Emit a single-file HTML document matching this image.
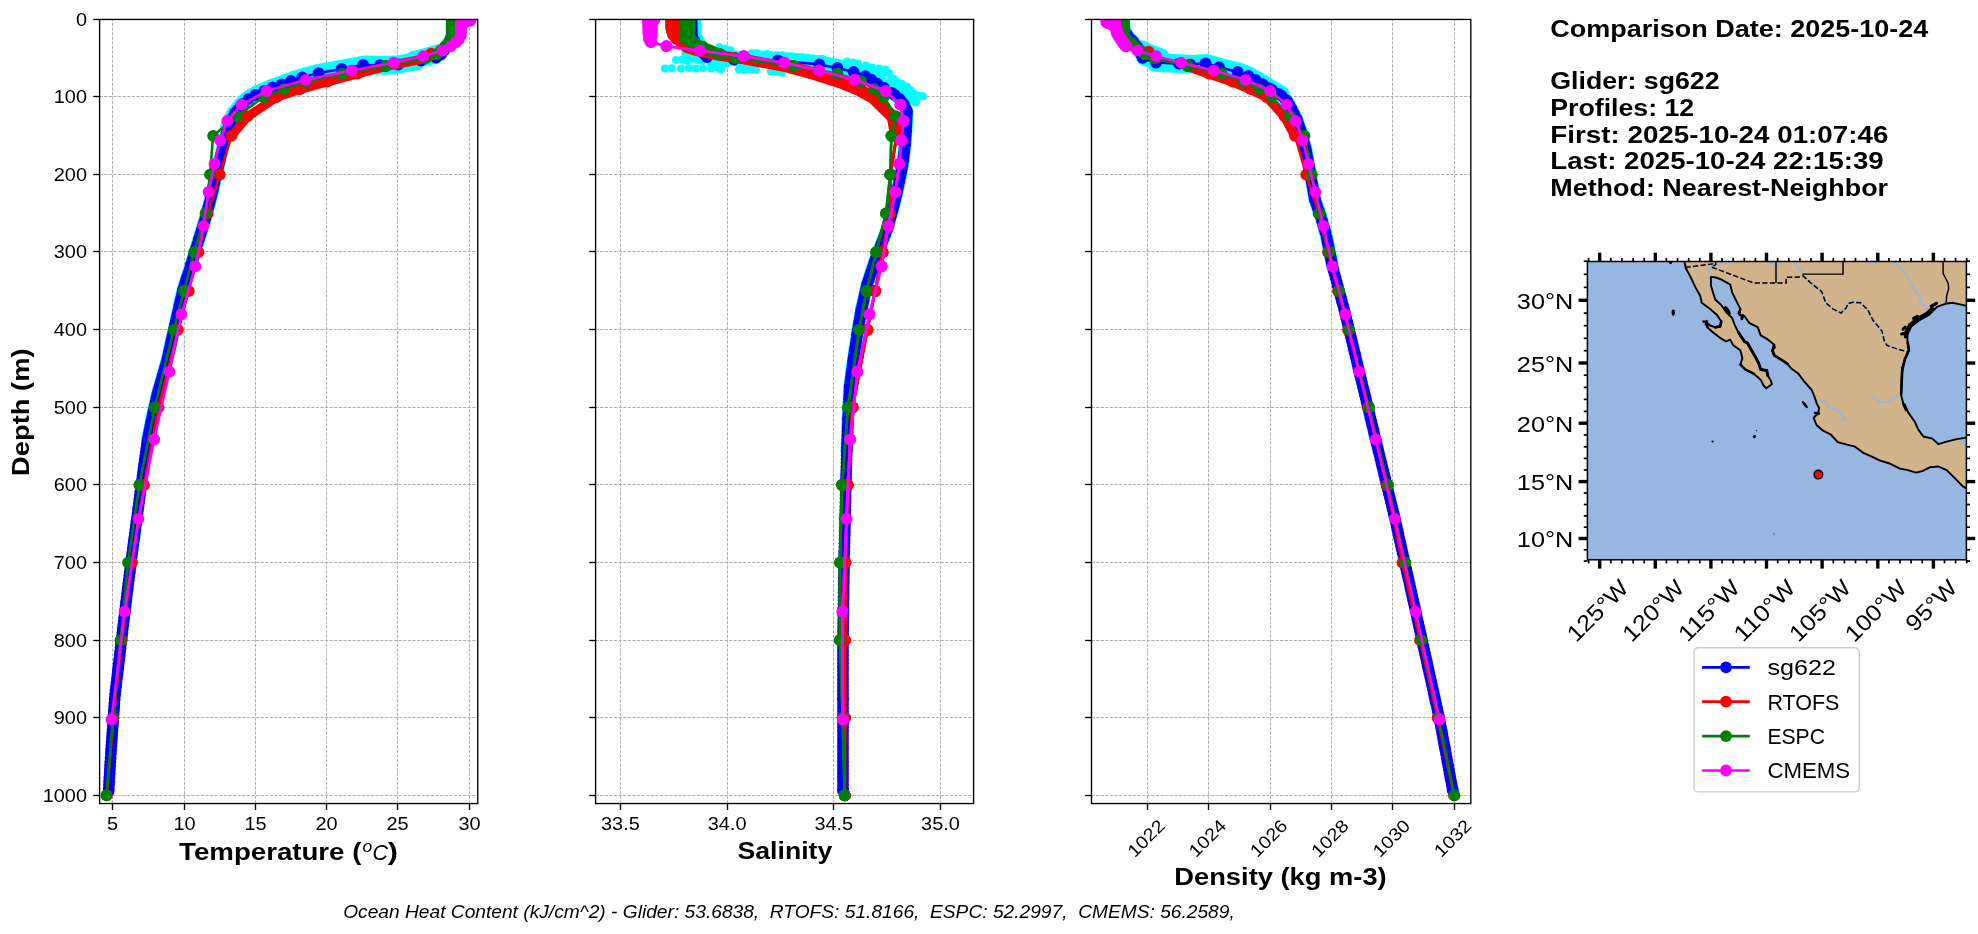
<!DOCTYPE html>
<html lang="en"><head><meta charset="utf-8"><title>Glider vs model profile comparison</title>
<style>html,body{margin:0;padding:0;background:#fff}svg{display:block;will-change:transform}</style></head>
<body>
<svg width="1978" height="934" viewBox="0 0 1978 934" font-family='"Liberation Sans", sans-serif' fill="#000">
<rect width="1978" height="934" fill="#fff"/>
<g stroke="#b0b0b0" stroke-width="1" stroke-dasharray="3.2 1.4" fill="none">
<line x1="112.5" y1="803.55" x2="112.5" y2="19.45"/>
<line x1="184.5" y1="803.55" x2="184.5" y2="19.45"/>
<line x1="255.5" y1="803.55" x2="255.5" y2="19.45"/>
<line x1="326.5" y1="803.55" x2="326.5" y2="19.45"/>
<line x1="397.5" y1="803.55" x2="397.5" y2="19.45"/>
<line x1="469.5" y1="803.55" x2="469.5" y2="19.45"/>
<line x1="99.6" y1="19.5" x2="477.75" y2="19.5"/>
<line x1="99.6" y1="96.5" x2="477.75" y2="96.5"/>
<line x1="99.6" y1="174.5" x2="477.75" y2="174.5"/>
<line x1="99.6" y1="251.5" x2="477.75" y2="251.5"/>
<line x1="99.6" y1="329.5" x2="477.75" y2="329.5"/>
<line x1="99.6" y1="407.5" x2="477.75" y2="407.5"/>
<line x1="99.6" y1="484.5" x2="477.75" y2="484.5"/>
<line x1="99.6" y1="562.5" x2="477.75" y2="562.5"/>
<line x1="99.6" y1="640.5" x2="477.75" y2="640.5"/>
<line x1="99.6" y1="717.5" x2="477.75" y2="717.5"/>
<line x1="99.6" y1="795.5" x2="477.75" y2="795.5"/>
</g>
<clipPath id="cp0"><rect x="99.6" y="19.45" width="378.15" height="784.10"/></clipPath>
<g clip-path="url(#cp0)">
<polyline fill="none" stroke="#00ffff" stroke-width="12.8" stroke-linejoin="round" stroke-linecap="round" points="452.0,19.4 452.0,35.0 449.5,42.0 446.5,46.5 443.8,50.5 440.8,54.5 436.0,57.5 421.0,60.6 395.0,65.0 380.0,65.2 363.1,65.0 339.3,69.3 316.4,73.6 302.1,77.4 291.0,81.0 281.7,84.4 272.6,87.5 264.0,91.2 255.3,95.0 246.5,100.0 241.0,106.0 235.0,113.0 231.0,121.0 227.6,129.3 222.2,150.0 216.9,172.0 211.6,195.0 205.5,218.0 198.7,240.0 191.0,265.0 183.0,290.0 175.0,325.0 167.2,360.0 157.4,394.0 152.0,418.0 147.4,441.0"/>
<polyline fill="none" stroke="#00ffff" stroke-width="12.5" stroke-linejoin="round" stroke-linecap="round" points="447.5,43.3 444.8,47.3 441.8,51.3 437.0,54.3 422.0,57.4 396.0,61.8 381.0,62.0 364.1,61.8 340.3,66.1 317.4,70.4 303.1,74.2 292.0,77.8 282.7,81.2 273.6,84.3 265.0,88.0 256.3,91.8 247.5,96.8"/>
<polyline fill="none" stroke="#00ffff" stroke-width="12" stroke-linejoin="round" stroke-linecap="round" points="418.0,64.1 392.0,68.5 377.0,68.7 360.1,68.5"/>
<polyline fill="none" stroke="#00ffff" stroke-width="11.8" stroke-linejoin="round" stroke-linecap="round" points="412.0,57.2 423.3,54.4 433.0,51.8 443.0,48.6"/>
<polyline fill="none" stroke="#00ffff" stroke-width="12" stroke-linejoin="round" stroke-linecap="round" points="244.5,98.8 239.0,104.8 233.0,111.8 229.0,119.8 225.6,128.1"/>
<polyline fill="none" stroke="#0000ff" stroke-width="2.6" stroke-linejoin="round" stroke-linecap="round" points="452.0,19.4 452.0,35.0 449.5,42.0 446.5,46.5 443.8,50.5 440.8,54.5 436.0,57.5 421.0,60.6 395.0,65.0 380.0,65.2 363.1,65.0 339.3,69.3 316.4,73.6 302.1,77.4 291.0,81.0 281.7,84.4 272.6,87.5 264.0,91.2 255.3,95.0 246.5,100.0 241.0,106.0 235.0,113.0 231.0,121.0 227.6,129.3 222.2,150.0 216.9,172.0 211.6,195.0 205.5,218.0 198.7,240.0 191.0,265.0 183.0,290.0 175.0,325.0 167.2,360.0 157.4,394.0 152.0,418.0 147.4,441.0 142.5,476.0 138.0,510.0 133.3,545.0 127.5,590.0 121.5,640.0 115.0,695.0 110.8,754.0 108.6,791.5"/>
<g fill="#0000ff"><circle cx="452.0" cy="19.4" r="5.9"/><circle cx="452.0" cy="23.3" r="5.9"/><circle cx="452.0" cy="27.2" r="5.9"/><circle cx="452.0" cy="31.0" r="5.9"/><circle cx="452.0" cy="34.9" r="5.9"/><circle cx="450.6" cy="38.9" r="5.9"/><circle cx="449.5" cy="42.0" r="5.9"/><circle cx="446.9" cy="45.9" r="5.9"/><circle cx="443.9" cy="50.4" r="5.9"/><circle cx="440.9" cy="54.4" r="5.9"/><circle cx="436.0" cy="57.5" r="5.9"/><circle cx="421.0" cy="60.6" r="5.9"/><circle cx="398.1" cy="64.5" r="5.9"/><circle cx="380.0" cy="65.2" r="5.9"/><circle cx="363.1" cy="65.0" r="5.9"/><circle cx="341.6" cy="68.9" r="5.9"/><circle cx="318.6" cy="73.2" r="5.9"/><circle cx="302.1" cy="77.4" r="5.9"/><circle cx="291.0" cy="81.0" r="5.9"/><circle cx="281.7" cy="84.4" r="5.9"/><circle cx="272.6" cy="87.5" r="5.9"/><circle cx="264.0" cy="91.2" r="5.9"/><circle cx="255.3" cy="95.0" r="5.9"/><circle cx="248.5" cy="98.9" r="5.9"/><circle cx="242.9" cy="103.9" r="5.9"/><circle cx="241.0" cy="106.0" r="5.9"/><circle cx="237.7" cy="109.9" r="5.9"/><circle cx="235.0" cy="113.0" r="5.9"/><circle cx="233.1" cy="116.9" r="5.9"/><circle cx="231.1" cy="120.8" r="5.9"/><circle cx="229.4" cy="124.9" r="5.9"/><circle cx="227.8" cy="128.8" r="5.9"/><circle cx="226.6" cy="133.2" r="5.9"/><circle cx="225.6" cy="137.1" r="5.9"/><circle cx="224.6" cy="140.9" r="5.9"/><circle cx="223.6" cy="144.8" r="5.9"/><circle cx="222.5" cy="148.7" r="5.9"/><circle cx="221.3" cy="153.9" r="5.9"/><circle cx="220.3" cy="157.8" r="5.9"/><circle cx="219.4" cy="161.6" r="5.9"/><circle cx="218.5" cy="165.5" r="5.9"/><circle cx="217.5" cy="169.4" r="5.9"/><circle cx="216.9" cy="172.0" r="5.9"/><circle cx="216.0" cy="175.9" r="5.9"/><circle cx="215.1" cy="179.8" r="5.9"/><circle cx="214.2" cy="183.6" r="5.9"/><circle cx="213.3" cy="187.5" r="5.9"/><circle cx="212.4" cy="191.4" r="5.9"/><circle cx="211.6" cy="195.0" r="5.9"/><circle cx="210.6" cy="198.9" r="5.9"/><circle cx="209.5" cy="202.8" r="5.9"/><circle cx="208.5" cy="206.6" r="5.9"/><circle cx="207.5" cy="210.5" r="5.9"/><circle cx="206.5" cy="214.4" r="5.9"/><circle cx="205.5" cy="218.0" r="5.9"/><circle cx="204.3" cy="221.9" r="5.9"/><circle cx="203.1" cy="225.8" r="5.9"/><circle cx="201.9" cy="229.6" r="5.9"/><circle cx="200.7" cy="233.5" r="5.9"/><circle cx="199.5" cy="237.4" r="5.9"/><circle cx="198.7" cy="240.0" r="5.9"/><circle cx="197.5" cy="243.9" r="5.9"/><circle cx="196.3" cy="247.8" r="5.9"/><circle cx="195.1" cy="251.6" r="5.9"/><circle cx="193.9" cy="255.5" r="5.9"/><circle cx="192.7" cy="259.4" r="5.9"/><circle cx="191.5" cy="263.3" r="5.9"/><circle cx="191.0" cy="265.0" r="5.9"/><circle cx="189.8" cy="268.9" r="5.9"/><circle cx="188.5" cy="272.8" r="5.9"/><circle cx="187.3" cy="276.6" r="5.9"/><circle cx="186.0" cy="280.5" r="5.9"/><circle cx="184.8" cy="284.4" r="5.9"/><circle cx="183.6" cy="288.3" r="5.9"/><circle cx="183.0" cy="290.0" r="5.9"/><circle cx="182.1" cy="293.9" r="5.9"/><circle cx="181.2" cy="297.8" r="5.9"/><circle cx="180.3" cy="301.6" r="5.9"/><circle cx="179.5" cy="305.5" r="5.9"/><circle cx="178.6" cy="309.4" r="5.9"/><circle cx="177.7" cy="313.3" r="5.9"/><circle cx="176.8" cy="317.2" r="5.9"/><circle cx="175.9" cy="321.0" r="5.9"/><circle cx="175.0" cy="324.9" r="5.9"/><circle cx="174.1" cy="328.9" r="5.9"/><circle cx="173.3" cy="332.8" r="5.9"/><circle cx="172.4" cy="336.6" r="5.9"/><circle cx="171.5" cy="340.5" r="5.9"/><circle cx="170.7" cy="344.4" r="5.9"/><circle cx="169.8" cy="348.3" r="5.9"/><circle cx="168.9" cy="352.2" r="5.9"/><circle cx="168.1" cy="356.0" r="5.9"/><circle cx="167.2" cy="359.9" r="5.9"/><circle cx="166.1" cy="363.9" r="5.9"/><circle cx="165.0" cy="367.8" r="5.9"/><circle cx="163.8" cy="371.6" r="5.9"/><circle cx="162.7" cy="375.5" r="5.9"/><circle cx="161.6" cy="379.4" r="5.9"/><circle cx="160.5" cy="383.3" r="5.9"/><circle cx="159.4" cy="387.2" r="5.9"/><circle cx="158.3" cy="391.0" r="5.9"/><circle cx="157.4" cy="394.0" r="5.9"/><circle cx="156.5" cy="397.9" r="5.9"/><circle cx="155.7" cy="401.8" r="5.9"/><circle cx="154.8" cy="405.6" r="5.9"/><circle cx="153.9" cy="409.5" r="5.9"/><circle cx="153.0" cy="413.4" r="5.9"/><circle cx="152.2" cy="417.3" r="5.9"/><circle cx="151.2" cy="421.9" r="5.9"/><circle cx="150.4" cy="425.8" r="5.9"/><circle cx="149.7" cy="429.6" r="5.9"/><circle cx="148.9" cy="433.5" r="5.9"/><circle cx="148.1" cy="437.4" r="5.9"/><circle cx="147.4" cy="441.0" r="5.9"/><circle cx="146.9" cy="444.9" r="5.9"/><circle cx="146.3" cy="448.8" r="5.9"/><circle cx="145.8" cy="452.6" r="5.9"/><circle cx="145.2" cy="456.5" r="5.9"/><circle cx="144.7" cy="460.4" r="5.9"/><circle cx="144.1" cy="464.3" r="5.9"/><circle cx="143.6" cy="468.2" r="5.9"/><circle cx="143.1" cy="472.0" r="5.9"/><circle cx="142.5" cy="475.9" r="5.9"/><circle cx="142.0" cy="479.9" r="5.9"/><circle cx="141.5" cy="483.8" r="5.9"/><circle cx="141.0" cy="487.6" r="5.9"/><circle cx="140.4" cy="491.5" r="5.9"/><circle cx="139.9" cy="495.4" r="5.9"/><circle cx="139.4" cy="499.3" r="5.9"/><circle cx="138.9" cy="503.2" r="5.9"/><circle cx="138.4" cy="507.0" r="5.9"/><circle cx="138.0" cy="510.0" r="5.9"/><circle cx="137.5" cy="513.9" r="5.9"/><circle cx="137.0" cy="517.8" r="5.9"/><circle cx="136.4" cy="521.6" r="5.9"/><circle cx="135.9" cy="525.5" r="5.9"/><circle cx="135.4" cy="529.4" r="5.9"/><circle cx="134.9" cy="533.3" r="5.9"/><circle cx="134.4" cy="537.2" r="5.9"/><circle cx="133.8" cy="541.0" r="5.9"/><circle cx="133.3" cy="544.9" r="5.9"/><circle cx="132.8" cy="548.9" r="5.9"/><circle cx="132.3" cy="552.8" r="5.9"/><circle cx="131.8" cy="556.6" r="5.9"/><circle cx="131.3" cy="560.5" r="5.9"/><circle cx="130.8" cy="564.4" r="5.9"/><circle cx="130.3" cy="568.3" r="5.9"/><circle cx="129.8" cy="572.2" r="5.9"/><circle cx="129.3" cy="576.0" r="5.9"/><circle cx="128.8" cy="579.9" r="5.9"/><circle cx="128.3" cy="583.8" r="5.9"/><circle cx="127.8" cy="587.7" r="5.9"/><circle cx="127.5" cy="590.0" r="5.9"/><circle cx="127.0" cy="593.9" r="5.9"/><circle cx="126.6" cy="597.8" r="5.9"/><circle cx="126.1" cy="601.6" r="5.9"/><circle cx="125.6" cy="605.5" r="5.9"/><circle cx="125.2" cy="609.4" r="5.9"/><circle cx="124.7" cy="613.3" r="5.9"/><circle cx="124.2" cy="617.2" r="5.9"/><circle cx="123.8" cy="621.0" r="5.9"/><circle cx="123.3" cy="624.9" r="5.9"/><circle cx="122.8" cy="628.8" r="5.9"/><circle cx="122.4" cy="632.7" r="5.9"/><circle cx="121.9" cy="636.6" r="5.9"/><circle cx="121.5" cy="640.0" r="5.9"/><circle cx="121.0" cy="643.9" r="5.9"/><circle cx="120.6" cy="647.8" r="5.9"/><circle cx="120.1" cy="651.6" r="5.9"/><circle cx="119.7" cy="655.5" r="5.9"/><circle cx="119.2" cy="659.4" r="5.9"/><circle cx="118.7" cy="663.3" r="5.9"/><circle cx="118.3" cy="667.2" r="5.9"/><circle cx="117.8" cy="671.0" r="5.9"/><circle cx="117.4" cy="674.9" r="5.9"/><circle cx="116.9" cy="678.8" r="5.9"/><circle cx="116.5" cy="682.7" r="5.9"/><circle cx="116.0" cy="686.6" r="5.9"/><circle cx="115.5" cy="690.4" r="5.9"/><circle cx="115.1" cy="694.3" r="5.9"/><circle cx="114.7" cy="698.9" r="5.9"/><circle cx="114.4" cy="702.8" r="5.9"/><circle cx="114.2" cy="706.6" r="5.9"/><circle cx="113.9" cy="710.5" r="5.9"/><circle cx="113.6" cy="714.4" r="5.9"/><circle cx="113.3" cy="718.3" r="5.9"/><circle cx="113.1" cy="722.2" r="5.9"/><circle cx="112.8" cy="726.0" r="5.9"/><circle cx="112.5" cy="729.9" r="5.9"/><circle cx="112.2" cy="733.8" r="5.9"/><circle cx="112.0" cy="737.7" r="5.9"/><circle cx="111.7" cy="741.6" r="5.9"/><circle cx="111.4" cy="745.4" r="5.9"/><circle cx="111.1" cy="749.3" r="5.9"/><circle cx="110.9" cy="753.2" r="5.9"/><circle cx="110.6" cy="757.9" r="5.9"/><circle cx="110.3" cy="761.8" r="5.9"/><circle cx="110.1" cy="765.6" r="5.9"/><circle cx="109.9" cy="769.5" r="5.9"/><circle cx="109.7" cy="773.4" r="5.9"/><circle cx="109.4" cy="777.3" r="5.9"/><circle cx="109.2" cy="781.2" r="5.9"/><circle cx="109.0" cy="785.0" r="5.9"/><circle cx="108.8" cy="788.9" r="5.9"/><circle cx="108.6" cy="791.5" r="5.9"/></g>
<polyline fill="none" stroke="#ff0000" stroke-width="9" stroke-linejoin="round" stroke-linecap="round" points="436.0,54.6 425.5,58.5 386.0,66.3 357.5,74.0 327.5,81.8 300.0,89.5 276.5,97.3 247.5,116.7 231.4,136.1"/>
<polyline fill="none" stroke="#ff0000" stroke-width="2.6" stroke-linejoin="round" stroke-linecap="round" points="453.0,19.4 453.0,21.0 453.0,22.5 453.0,24.1 453.0,25.6 453.0,27.2 453.0,28.7 453.0,31.0 453.0,34.9 453.0,38.8 449.0,42.7 445.0,46.6 441.0,50.4 436.0,54.3 425.5,58.2 386.0,66.0 357.5,73.7 327.5,81.5 300.0,89.2 276.5,97.0 247.5,116.4 231.4,135.8 219.7,174.6 207.7,213.4 198.5,252.2 188.7,291.0 177.9,329.8 158.5,407.4 144.0,485.0 132.0,562.6 121.7,640.2 113.5,717.8 106.8,795.4"/>
<g fill="#ff0000"><circle cx="453.0" cy="19.4" r="5.9"/><circle cx="453.0" cy="21.0" r="5.9"/><circle cx="453.0" cy="22.5" r="5.9"/><circle cx="453.0" cy="24.1" r="5.9"/><circle cx="453.0" cy="25.6" r="5.9"/><circle cx="453.0" cy="27.2" r="5.9"/><circle cx="453.0" cy="28.7" r="5.9"/><circle cx="453.0" cy="31.0" r="5.9"/><circle cx="453.0" cy="34.9" r="5.9"/><circle cx="453.0" cy="38.8" r="5.9"/><circle cx="449.0" cy="42.7" r="5.9"/><circle cx="445.0" cy="46.6" r="5.9"/><circle cx="441.0" cy="50.4" r="5.9"/><circle cx="436.0" cy="54.3" r="5.9"/><circle cx="425.5" cy="58.2" r="5.9"/><circle cx="386.0" cy="66.0" r="5.9"/><circle cx="357.5" cy="73.7" r="5.9"/><circle cx="327.5" cy="81.5" r="5.9"/><circle cx="300.0" cy="89.2" r="5.9"/><circle cx="276.5" cy="97.0" r="5.9"/><circle cx="247.5" cy="116.4" r="5.9"/><circle cx="231.4" cy="135.8" r="5.9"/><circle cx="219.7" cy="174.6" r="5.9"/><circle cx="207.7" cy="213.4" r="5.9"/><circle cx="198.5" cy="252.2" r="5.9"/><circle cx="188.7" cy="291.0" r="5.9"/><circle cx="177.9" cy="329.8" r="5.9"/><circle cx="158.5" cy="407.4" r="5.9"/><circle cx="144.0" cy="485.0" r="5.9"/><circle cx="132.0" cy="562.6" r="5.9"/><circle cx="121.7" cy="640.2" r="5.9"/><circle cx="113.5" cy="717.8" r="5.9"/><circle cx="106.8" cy="795.4" r="5.9"/></g>
<g fill="#ff0000"><circle cx="431.0" cy="53.6" r="5.9"/></g>
<polyline fill="none" stroke="#008000" stroke-width="2.6" stroke-linejoin="round" stroke-linecap="round" points="452.0,19.4 452.0,21.0 452.0,22.5 452.0,24.1 452.0,25.6 452.0,27.2 452.0,28.7 452.0,31.0 452.0,34.9 451.0,38.8 449.0,42.7 446.0,46.6 442.0,50.4 436.5,54.3 426.0,58.2 385.6,66.0 342.0,73.7 306.8,81.5 283.8,89.2 263.9,97.0 236.5,116.4 213.1,135.8 210.0,174.6 205.5,213.4 194.2,252.2 183.9,291.0 173.7,329.8 154.8,407.4 139.3,485.0 128.0,562.6 120.5,640.2 113.1,717.8 106.4,795.4"/>
<g fill="#008000"><circle cx="452.0" cy="19.4" r="5.9"/><circle cx="452.0" cy="21.0" r="5.9"/><circle cx="452.0" cy="22.5" r="5.9"/><circle cx="452.0" cy="24.1" r="5.9"/><circle cx="452.0" cy="25.6" r="5.9"/><circle cx="452.0" cy="27.2" r="5.9"/><circle cx="452.0" cy="28.7" r="5.9"/><circle cx="452.0" cy="31.0" r="5.9"/><circle cx="452.0" cy="34.9" r="5.9"/><circle cx="451.0" cy="38.8" r="5.9"/><circle cx="449.0" cy="42.7" r="5.9"/><circle cx="446.0" cy="46.6" r="5.9"/><circle cx="442.0" cy="50.4" r="5.9"/><circle cx="436.5" cy="54.3" r="5.9"/><circle cx="426.0" cy="58.2" r="5.9"/><circle cx="385.6" cy="66.0" r="5.9"/><circle cx="342.0" cy="73.7" r="5.9"/><circle cx="306.8" cy="81.5" r="5.9"/><circle cx="283.8" cy="89.2" r="5.9"/><circle cx="263.9" cy="97.0" r="5.9"/><circle cx="236.5" cy="116.4" r="5.9"/><circle cx="213.1" cy="135.8" r="5.9"/><circle cx="210.0" cy="174.6" r="5.9"/><circle cx="205.5" cy="213.4" r="5.9"/><circle cx="194.2" cy="252.2" r="5.9"/><circle cx="183.9" cy="291.0" r="5.9"/><circle cx="173.7" cy="329.8" r="5.9"/><circle cx="154.8" cy="407.4" r="5.9"/><circle cx="139.3" cy="485.0" r="5.9"/><circle cx="128.0" cy="562.6" r="5.9"/><circle cx="120.5" cy="640.2" r="5.9"/><circle cx="113.1" cy="717.8" r="5.9"/><circle cx="106.4" cy="795.4" r="5.9"/></g>
<polyline fill="none" stroke="#ff00ff" stroke-width="2.6" stroke-linejoin="round" stroke-linecap="round" points="470.5,19.8 470.3,20.6 466.5,21.5 463.0,22.4 461.0,23.3"/>
<g fill="#ff00ff"><circle cx="470.5" cy="19.8" r="5.9"/><circle cx="470.3" cy="20.6" r="5.9"/><circle cx="466.5" cy="21.5" r="5.9"/><circle cx="463.0" cy="22.4" r="5.9"/><circle cx="461.0" cy="23.3" r="5.9"/></g>
<polyline fill="none" stroke="#ff00ff" stroke-width="2.6" stroke-linejoin="round" stroke-linecap="round" points="465.7,19.8 465.5,20.6 463.5,21.5 461.5,22.4 461.0,23.3"/>
<g fill="#ff00ff"><circle cx="465.7" cy="19.8" r="5.9"/><circle cx="465.5" cy="20.6" r="5.9"/><circle cx="463.5" cy="21.5" r="5.9"/><circle cx="461.5" cy="22.4" r="5.9"/><circle cx="461.0" cy="23.3" r="5.9"/></g>
<polyline fill="none" stroke="#ff00ff" stroke-width="2.6" stroke-linejoin="round" stroke-linecap="round" points="461.0,19.8 461.0,20.6 461.0,21.5 461.0,22.4 461.0,23.3 461.0,24.4 461.0,25.6 461.0,26.8 461.0,28.2 461.0,29.9 461.0,31.7 461.0,33.8 460.5,36.2 459.0,39.0 456.0,42.2 451.0,46.1 442.6,50.7 423.3,56.2 393.8,62.7 351.7,70.5 305.7,79.8 266.5,91.0 241.5,104.6 227.3,120.8 220.2,140.3 214.5,163.8 208.5,192.0 203.5,225.8 195.4,266.3 181.4,314.4 169.4,371.7 154.2,439.3 138.5,518.8 124.6,611.7 111.5,719.6"/>
<g fill="#ff00ff"><circle cx="461.0" cy="19.8" r="5.9"/><circle cx="461.0" cy="20.6" r="5.9"/><circle cx="461.0" cy="21.5" r="5.9"/><circle cx="461.0" cy="22.4" r="5.9"/><circle cx="461.0" cy="23.3" r="5.9"/><circle cx="461.0" cy="24.4" r="5.9"/><circle cx="461.0" cy="25.6" r="5.9"/><circle cx="461.0" cy="26.8" r="5.9"/><circle cx="461.0" cy="28.2" r="5.9"/><circle cx="461.0" cy="29.9" r="5.9"/><circle cx="461.0" cy="31.7" r="5.9"/><circle cx="461.0" cy="33.8" r="5.9"/><circle cx="460.5" cy="36.2" r="5.9"/><circle cx="459.0" cy="39.0" r="5.9"/><circle cx="456.0" cy="42.2" r="5.9"/><circle cx="451.0" cy="46.1" r="5.9"/><circle cx="442.6" cy="50.7" r="5.9"/><circle cx="423.3" cy="56.2" r="5.9"/><circle cx="393.8" cy="62.7" r="5.9"/><circle cx="351.7" cy="70.5" r="5.9"/><circle cx="305.7" cy="79.8" r="5.9"/><circle cx="266.5" cy="91.0" r="5.9"/><circle cx="241.5" cy="104.6" r="5.9"/><circle cx="227.3" cy="120.8" r="5.9"/><circle cx="220.2" cy="140.3" r="5.9"/><circle cx="214.5" cy="163.8" r="5.9"/><circle cx="208.5" cy="192.0" r="5.9"/><circle cx="203.5" cy="225.8" r="5.9"/><circle cx="195.4" cy="266.3" r="5.9"/><circle cx="181.4" cy="314.4" r="5.9"/><circle cx="169.4" cy="371.7" r="5.9"/><circle cx="154.2" cy="439.3" r="5.9"/><circle cx="138.5" cy="518.8" r="5.9"/><circle cx="124.6" cy="611.7" r="5.9"/><circle cx="111.5" cy="719.6" r="5.9"/></g>
</g>
<rect x="99.6" y="19.45" width="378.15" height="784.10" fill="none" stroke="#000" stroke-width="1.35"/>
<g stroke="#000" stroke-width="1.35">
<line x1="112.5" y1="803.55" x2="112.5" y2="809.95"/>
<line x1="184.5" y1="803.55" x2="184.5" y2="809.95"/>
<line x1="255.5" y1="803.55" x2="255.5" y2="809.95"/>
<line x1="326.5" y1="803.55" x2="326.5" y2="809.95"/>
<line x1="397.5" y1="803.55" x2="397.5" y2="809.95"/>
<line x1="469.5" y1="803.55" x2="469.5" y2="809.95"/>
<line x1="93.20" y1="19.5" x2="99.6" y2="19.5"/>
<line x1="93.20" y1="96.5" x2="99.6" y2="96.5"/>
<line x1="93.20" y1="174.5" x2="99.6" y2="174.5"/>
<line x1="93.20" y1="251.5" x2="99.6" y2="251.5"/>
<line x1="93.20" y1="329.5" x2="99.6" y2="329.5"/>
<line x1="93.20" y1="407.5" x2="99.6" y2="407.5"/>
<line x1="93.20" y1="484.5" x2="99.6" y2="484.5"/>
<line x1="93.20" y1="562.5" x2="99.6" y2="562.5"/>
<line x1="93.20" y1="640.5" x2="99.6" y2="640.5"/>
<line x1="93.20" y1="717.5" x2="99.6" y2="717.5"/>
<line x1="93.20" y1="795.5" x2="99.6" y2="795.5"/>
</g>
<text x="112.50" y="830.10" font-size="17.71" text-anchor="middle" textLength="11.07" lengthAdjust="spacingAndGlyphs">5</text>
<text x="184.50" y="830.10" font-size="17.71" text-anchor="middle" textLength="22.14" lengthAdjust="spacingAndGlyphs">10</text>
<text x="255.50" y="830.10" font-size="17.71" text-anchor="middle" textLength="22.14" lengthAdjust="spacingAndGlyphs">15</text>
<text x="326.50" y="830.10" font-size="17.71" text-anchor="middle" textLength="22.14" lengthAdjust="spacingAndGlyphs">20</text>
<text x="397.50" y="830.10" font-size="17.71" text-anchor="middle" textLength="22.14" lengthAdjust="spacingAndGlyphs">25</text>
<text x="469.50" y="830.10" font-size="17.71" text-anchor="middle" textLength="22.14" lengthAdjust="spacingAndGlyphs">30</text>
<text x="87.00" y="25.80" font-size="17.71" text-anchor="end" textLength="11.07" lengthAdjust="spacingAndGlyphs">0</text>
<text x="87.00" y="102.80" font-size="17.71" text-anchor="end" textLength="33.21" lengthAdjust="spacingAndGlyphs">100</text>
<text x="87.00" y="180.80" font-size="17.71" text-anchor="end" textLength="33.21" lengthAdjust="spacingAndGlyphs">200</text>
<text x="87.00" y="257.80" font-size="17.71" text-anchor="end" textLength="33.21" lengthAdjust="spacingAndGlyphs">300</text>
<text x="87.00" y="335.80" font-size="17.71" text-anchor="end" textLength="33.21" lengthAdjust="spacingAndGlyphs">400</text>
<text x="87.00" y="413.80" font-size="17.71" text-anchor="end" textLength="33.21" lengthAdjust="spacingAndGlyphs">500</text>
<text x="87.00" y="490.80" font-size="17.71" text-anchor="end" textLength="33.21" lengthAdjust="spacingAndGlyphs">600</text>
<text x="87.00" y="568.80" font-size="17.71" text-anchor="end" textLength="33.21" lengthAdjust="spacingAndGlyphs">700</text>
<text x="87.00" y="646.80" font-size="17.71" text-anchor="end" textLength="33.21" lengthAdjust="spacingAndGlyphs">800</text>
<text x="87.00" y="723.80" font-size="17.71" text-anchor="end" textLength="33.21" lengthAdjust="spacingAndGlyphs">900</text>
<text x="87.00" y="801.80" font-size="17.71" text-anchor="end" textLength="44.28" lengthAdjust="spacingAndGlyphs">1000</text>
<g stroke="#b0b0b0" stroke-width="1" stroke-dasharray="3.2 1.4" fill="none">
<line x1="620.5" y1="803.55" x2="620.5" y2="19.45"/>
<line x1="727.5" y1="803.55" x2="727.5" y2="19.45"/>
<line x1="833.5" y1="803.55" x2="833.5" y2="19.45"/>
<line x1="940.5" y1="803.55" x2="940.5" y2="19.45"/>
<line x1="595.6" y1="19.5" x2="973.6" y2="19.5"/>
<line x1="595.6" y1="96.5" x2="973.6" y2="96.5"/>
<line x1="595.6" y1="174.5" x2="973.6" y2="174.5"/>
<line x1="595.6" y1="251.5" x2="973.6" y2="251.5"/>
<line x1="595.6" y1="329.5" x2="973.6" y2="329.5"/>
<line x1="595.6" y1="407.5" x2="973.6" y2="407.5"/>
<line x1="595.6" y1="484.5" x2="973.6" y2="484.5"/>
<line x1="595.6" y1="562.5" x2="973.6" y2="562.5"/>
<line x1="595.6" y1="640.5" x2="973.6" y2="640.5"/>
<line x1="595.6" y1="717.5" x2="973.6" y2="717.5"/>
<line x1="595.6" y1="795.5" x2="973.6" y2="795.5"/>
</g>
<clipPath id="cp1"><rect x="595.6" y="19.45" width="378.00" height="784.10"/></clipPath>
<g clip-path="url(#cp1)">
<polyline fill="none" stroke="#00ffff" stroke-width="12.8" stroke-linejoin="round" stroke-linecap="round" points="691.7,19.4 692.0,36.0 695.0,42.0 700.0,50.0 707.0,57.0 734.0,59.5 778.0,60.5 819.5,64.4 837.3,68.0 856.6,72.6 865.3,76.1 871.4,79.7 877.5,83.7 886.0,89.0 894.8,94.9 899.9,99.0 904.0,105.0 907.0,111.2 906.5,122.0 906.0,131.6 905.0,145.0 903.0,161.4 900.0,178.0 896.2,195.7 892.0,212.0 886.8,230.0 880.3,247.0 873.8,264.0 867.0,285.0 861.3,310.0 857.0,335.6 853.0,362.0 849.7,387.0 848.0,420.0 846.8,451.4"/>
<polyline fill="none" stroke="#00ffff" stroke-width="12" stroke-linejoin="round" stroke-linecap="round" points="695.1,18.4 695.4,35.0 698.4,41.0 703.4,49.0 710.4,56.0 737.4,58.5"/>
<polyline fill="none" stroke="#00ffff" stroke-width="12.5" stroke-linejoin="round" stroke-linecap="round" points="735.5,56.9 779.5,57.9 821.0,61.8 838.8,65.4 858.1,70.0 866.8,73.5 872.9,77.1 879.0,81.1 887.5,86.4 896.3,92.3 901.4,96.4"/>
<g fill="#00ffff"><circle cx="664.8" cy="68.4" r="4.0"/><circle cx="671.8" cy="68.2" r="4.0"/><circle cx="681.0" cy="68.6" r="4.0"/><circle cx="688.8" cy="68.0" r="4.0"/><circle cx="695.9" cy="68.5" r="4.0"/><circle cx="703.0" cy="68.1" r="4.0"/><circle cx="711.5" cy="68.6" r="4.0"/><circle cx="717.1" cy="67.6" r="4.0"/><circle cx="720.9" cy="69.4" r="4.0"/><circle cx="676.0" cy="60.0" r="4.0"/><circle cx="682.5" cy="59.4" r="4.0"/><circle cx="686.5" cy="60.6" r="4.0"/><circle cx="691.0" cy="58.8" r="4.0"/><circle cx="696.6" cy="59.8" r="4.0"/><circle cx="702.3" cy="60.6" r="4.0"/><circle cx="710.8" cy="63.3" r="4.0"/><circle cx="716.0" cy="62.2" r="4.0"/><circle cx="727.0" cy="63.3" r="4.0"/><circle cx="721.5" cy="64.6" r="4.0"/><circle cx="685.3" cy="54.1" r="4.0"/><circle cx="689.5" cy="56.2" r="4.0"/><circle cx="694.5" cy="55.0" r="4.0"/><circle cx="739.0" cy="69.6" r="4.0"/><circle cx="744.7" cy="70.0" r="4.0"/><circle cx="750.4" cy="69.4" r="4.0"/><circle cx="756.0" cy="69.8" r="4.0"/><circle cx="740.5" cy="66.0" r="4.0"/><circle cx="746.0" cy="66.5" r="4.0"/><circle cx="752.0" cy="66.8" r="4.0"/><circle cx="771.0" cy="71.6" r="4.0"/><circle cx="776.5" cy="72.0" r="4.0"/><circle cx="782.0" cy="72.6" r="4.0"/><circle cx="719.3" cy="47.0" r="4.0"/><circle cx="725.0" cy="48.4" r="4.0"/><circle cx="730.6" cy="50.2" r="4.0"/><circle cx="847.0" cy="61.5" r="4.0"/><circle cx="853.0" cy="62.5" r="4.0"/><circle cx="858.0" cy="63.6" r="4.0"/><circle cx="866.0" cy="65.5" r="4.0"/><circle cx="872.0" cy="67.4" r="4.0"/><circle cx="879.0" cy="68.6" r="4.0"/><circle cx="885.6" cy="69.6" r="4.0"/><circle cx="889.0" cy="73.0" r="4.0"/><circle cx="891.0" cy="77.5" r="4.0"/><circle cx="902.0" cy="84.0" r="4.0"/><circle cx="907.0" cy="86.8" r="4.0"/><circle cx="911.0" cy="90.5" r="4.0"/><circle cx="914.0" cy="93.5" r="4.0"/><circle cx="918.5" cy="95.8" r="4.0"/><circle cx="923.0" cy="96.2" r="4.0"/><circle cx="913.0" cy="99.5" r="4.0"/><circle cx="916.0" cy="102.5" r="4.0"/><circle cx="894.0" cy="79.0" r="4.0"/><circle cx="897.5" cy="82.0" r="4.0"/><circle cx="901.0" cy="85.5" r="4.0"/><circle cx="905.0" cy="88.8" r="4.0"/><circle cx="908.5" cy="92.0" r="4.0"/><circle cx="912.0" cy="95.0" r="4.0"/><circle cx="916.5" cy="97.6" r="4.0"/><circle cx="909.0" cy="97.2" r="4.0"/><circle cx="911.5" cy="100.6" r="4.0"/><circle cx="884.0" cy="72.5" r="4.0"/><circle cx="880.0" cy="70.6" r="4.0"/><circle cx="875.0" cy="69.4" r="4.0"/><circle cx="752.0" cy="53.2" r="4.0"/><circle cx="757.0" cy="53.3" r="4.0"/><circle cx="762.0" cy="54.5" r="4.0"/><circle cx="767.0" cy="54.1" r="4.0"/><circle cx="772.0" cy="55.2" r="4.0"/><circle cx="777.0" cy="55.3" r="4.0"/><circle cx="782.0" cy="55.3" r="4.0"/><circle cx="787.0" cy="56.4" r="4.0"/><circle cx="792.0" cy="56.2" r="4.0"/><circle cx="797.0" cy="57.1" r="4.0"/><circle cx="802.0" cy="57.0" r="4.0"/><circle cx="807.0" cy="57.5" r="4.0"/><circle cx="812.0" cy="58.4" r="4.0"/><circle cx="817.0" cy="59.4" r="4.0"/><circle cx="822.0" cy="58.8" r="4.0"/></g>
<polyline fill="none" stroke="#0000ff" stroke-width="2.6" stroke-linejoin="round" stroke-linecap="round" points="691.7,19.4 692.0,36.0 695.0,42.0 700.0,50.0 707.0,57.0 734.0,59.5 778.0,60.5 819.5,64.4 837.3,68.0 856.6,72.6 865.3,76.1 871.4,79.7 877.5,83.7 886.0,89.0 894.8,94.9 899.9,99.0 904.0,105.0 907.0,111.2 906.5,122.0 906.0,131.6 905.0,145.0 903.0,161.4 900.0,178.0 896.2,195.7 892.0,212.0 886.8,230.0 880.3,247.0 873.8,264.0 867.0,285.0 861.3,310.0 857.0,335.6 853.0,362.0 849.7,387.0 848.0,420.0 846.8,451.4 845.8,487.0 845.1,520.0 844.2,554.0 843.5,600.0 843.0,640.0 843.0,700.0 843.0,750.0 843.0,790.5"/>
<g fill="#0000ff"><circle cx="691.7" cy="19.4" r="5.9"/><circle cx="691.8" cy="23.3" r="5.9"/><circle cx="691.8" cy="27.2" r="5.9"/><circle cx="691.9" cy="31.0" r="5.9"/><circle cx="692.0" cy="34.9" r="5.9"/><circle cx="693.9" cy="39.9" r="5.9"/><circle cx="695.0" cy="42.0" r="5.9"/><circle cx="697.4" cy="45.9" r="5.9"/><circle cx="699.9" cy="49.8" r="5.9"/><circle cx="703.9" cy="53.9" r="5.9"/><circle cx="707.0" cy="57.0" r="5.9"/><circle cx="734.0" cy="59.5" r="5.9"/><circle cx="778.0" cy="60.5" r="5.9"/><circle cx="819.3" cy="64.4" r="5.9"/><circle cx="837.3" cy="68.0" r="5.9"/><circle cx="853.6" cy="71.9" r="5.9"/><circle cx="865.3" cy="76.1" r="5.9"/><circle cx="871.4" cy="79.7" r="5.9"/><circle cx="877.3" cy="83.6" r="5.9"/><circle cx="883.7" cy="87.6" r="5.9"/><circle cx="891.8" cy="92.9" r="5.9"/><circle cx="894.8" cy="94.9" r="5.9"/><circle cx="899.6" cy="98.8" r="5.9"/><circle cx="902.6" cy="102.9" r="5.9"/><circle cx="904.0" cy="105.0" r="5.9"/><circle cx="905.9" cy="108.9" r="5.9"/><circle cx="907.0" cy="111.2" r="5.9"/><circle cx="906.8" cy="115.1" r="5.9"/><circle cx="906.6" cy="119.0" r="5.9"/><circle cx="906.5" cy="122.0" r="5.9"/><circle cx="906.3" cy="125.9" r="5.9"/><circle cx="906.1" cy="129.8" r="5.9"/><circle cx="906.0" cy="131.6" r="5.9"/><circle cx="905.7" cy="135.5" r="5.9"/><circle cx="905.4" cy="139.4" r="5.9"/><circle cx="905.1" cy="143.2" r="5.9"/><circle cx="905.0" cy="145.0" r="5.9"/><circle cx="904.5" cy="148.9" r="5.9"/><circle cx="904.1" cy="152.8" r="5.9"/><circle cx="903.6" cy="156.6" r="5.9"/><circle cx="903.1" cy="160.5" r="5.9"/><circle cx="902.3" cy="165.3" r="5.9"/><circle cx="901.6" cy="169.2" r="5.9"/><circle cx="900.9" cy="173.0" r="5.9"/><circle cx="900.2" cy="176.9" r="5.9"/><circle cx="899.2" cy="181.9" r="5.9"/><circle cx="898.3" cy="185.8" r="5.9"/><circle cx="897.5" cy="189.6" r="5.9"/><circle cx="896.7" cy="193.5" r="5.9"/><circle cx="896.2" cy="195.7" r="5.9"/><circle cx="895.2" cy="199.6" r="5.9"/><circle cx="894.2" cy="203.5" r="5.9"/><circle cx="893.2" cy="207.3" r="5.9"/><circle cx="892.2" cy="211.2" r="5.9"/><circle cx="890.9" cy="215.9" r="5.9"/><circle cx="889.8" cy="219.8" r="5.9"/><circle cx="888.6" cy="223.6" r="5.9"/><circle cx="887.5" cy="227.5" r="5.9"/><circle cx="886.8" cy="230.0" r="5.9"/><circle cx="885.3" cy="233.9" r="5.9"/><circle cx="883.8" cy="237.8" r="5.9"/><circle cx="882.3" cy="241.6" r="5.9"/><circle cx="880.9" cy="245.5" r="5.9"/><circle cx="878.8" cy="250.9" r="5.9"/><circle cx="877.3" cy="254.8" r="5.9"/><circle cx="875.8" cy="258.6" r="5.9"/><circle cx="874.4" cy="262.5" r="5.9"/><circle cx="872.5" cy="267.9" r="5.9"/><circle cx="871.3" cy="271.8" r="5.9"/><circle cx="870.0" cy="275.6" r="5.9"/><circle cx="868.8" cy="279.5" r="5.9"/><circle cx="867.5" cy="283.4" r="5.9"/><circle cx="867.0" cy="285.0" r="5.9"/><circle cx="866.1" cy="288.9" r="5.9"/><circle cx="865.2" cy="292.8" r="5.9"/><circle cx="864.3" cy="296.6" r="5.9"/><circle cx="863.5" cy="300.5" r="5.9"/><circle cx="862.6" cy="304.4" r="5.9"/><circle cx="861.7" cy="308.3" r="5.9"/><circle cx="861.3" cy="310.0" r="5.9"/><circle cx="860.6" cy="313.9" r="5.9"/><circle cx="860.0" cy="317.8" r="5.9"/><circle cx="859.3" cy="321.6" r="5.9"/><circle cx="858.7" cy="325.5" r="5.9"/><circle cx="858.0" cy="329.4" r="5.9"/><circle cx="857.4" cy="333.3" r="5.9"/><circle cx="857.0" cy="335.6" r="5.9"/><circle cx="856.4" cy="339.5" r="5.9"/><circle cx="855.8" cy="343.4" r="5.9"/><circle cx="855.2" cy="347.2" r="5.9"/><circle cx="854.6" cy="351.1" r="5.9"/><circle cx="854.1" cy="355.0" r="5.9"/><circle cx="853.5" cy="358.9" r="5.9"/><circle cx="853.0" cy="362.0" r="5.9"/><circle cx="852.5" cy="365.9" r="5.9"/><circle cx="852.0" cy="369.8" r="5.9"/><circle cx="851.5" cy="373.6" r="5.9"/><circle cx="851.0" cy="377.5" r="5.9"/><circle cx="850.4" cy="381.4" r="5.9"/><circle cx="849.9" cy="385.3" r="5.9"/><circle cx="849.7" cy="387.0" r="5.9"/><circle cx="849.5" cy="390.9" r="5.9"/><circle cx="849.3" cy="394.8" r="5.9"/><circle cx="849.1" cy="398.6" r="5.9"/><circle cx="848.9" cy="402.5" r="5.9"/><circle cx="848.7" cy="406.4" r="5.9"/><circle cx="848.5" cy="410.3" r="5.9"/><circle cx="848.3" cy="414.2" r="5.9"/><circle cx="848.1" cy="418.0" r="5.9"/><circle cx="848.0" cy="420.0" r="5.9"/><circle cx="847.9" cy="423.9" r="5.9"/><circle cx="847.7" cy="427.8" r="5.9"/><circle cx="847.6" cy="431.6" r="5.9"/><circle cx="847.4" cy="435.5" r="5.9"/><circle cx="847.3" cy="439.4" r="5.9"/><circle cx="847.1" cy="443.3" r="5.9"/><circle cx="847.0" cy="447.2" r="5.9"/><circle cx="846.8" cy="451.0" r="5.9"/><circle cx="846.7" cy="455.3" r="5.9"/><circle cx="846.6" cy="459.2" r="5.9"/><circle cx="846.5" cy="463.0" r="5.9"/><circle cx="846.4" cy="466.9" r="5.9"/><circle cx="846.3" cy="470.8" r="5.9"/><circle cx="846.1" cy="474.7" r="5.9"/><circle cx="846.0" cy="478.6" r="5.9"/><circle cx="845.9" cy="482.4" r="5.9"/><circle cx="845.8" cy="486.3" r="5.9"/><circle cx="845.7" cy="490.9" r="5.9"/><circle cx="845.6" cy="494.8" r="5.9"/><circle cx="845.6" cy="498.6" r="5.9"/><circle cx="845.5" cy="502.5" r="5.9"/><circle cx="845.4" cy="506.4" r="5.9"/><circle cx="845.3" cy="510.3" r="5.9"/><circle cx="845.2" cy="514.2" r="5.9"/><circle cx="845.1" cy="518.0" r="5.9"/><circle cx="845.1" cy="520.0" r="5.9"/><circle cx="845.0" cy="523.9" r="5.9"/><circle cx="844.9" cy="527.8" r="5.9"/><circle cx="844.8" cy="531.6" r="5.9"/><circle cx="844.7" cy="535.5" r="5.9"/><circle cx="844.6" cy="539.4" r="5.9"/><circle cx="844.5" cy="543.3" r="5.9"/><circle cx="844.4" cy="547.2" r="5.9"/><circle cx="844.3" cy="551.0" r="5.9"/><circle cx="844.2" cy="554.0" r="5.9"/><circle cx="844.1" cy="557.9" r="5.9"/><circle cx="844.1" cy="561.8" r="5.9"/><circle cx="844.0" cy="565.6" r="5.9"/><circle cx="844.0" cy="569.5" r="5.9"/><circle cx="843.9" cy="573.4" r="5.9"/><circle cx="843.8" cy="577.3" r="5.9"/><circle cx="843.8" cy="581.2" r="5.9"/><circle cx="843.7" cy="585.0" r="5.9"/><circle cx="843.7" cy="588.9" r="5.9"/><circle cx="843.6" cy="592.8" r="5.9"/><circle cx="843.6" cy="596.7" r="5.9"/><circle cx="843.5" cy="600.0" r="5.9"/><circle cx="843.5" cy="603.9" r="5.9"/><circle cx="843.4" cy="607.8" r="5.9"/><circle cx="843.4" cy="611.6" r="5.9"/><circle cx="843.3" cy="615.5" r="5.9"/><circle cx="843.3" cy="619.4" r="5.9"/><circle cx="843.2" cy="623.3" r="5.9"/><circle cx="843.2" cy="627.2" r="5.9"/><circle cx="843.1" cy="631.0" r="5.9"/><circle cx="843.1" cy="634.9" r="5.9"/><circle cx="843.0" cy="638.8" r="5.9"/><circle cx="843.0" cy="643.9" r="5.9"/><circle cx="843.0" cy="647.8" r="5.9"/><circle cx="843.0" cy="651.6" r="5.9"/><circle cx="843.0" cy="655.5" r="5.9"/><circle cx="843.0" cy="659.4" r="5.9"/><circle cx="843.0" cy="663.3" r="5.9"/><circle cx="843.0" cy="667.2" r="5.9"/><circle cx="843.0" cy="671.0" r="5.9"/><circle cx="843.0" cy="674.9" r="5.9"/><circle cx="843.0" cy="678.8" r="5.9"/><circle cx="843.0" cy="682.7" r="5.9"/><circle cx="843.0" cy="686.6" r="5.9"/><circle cx="843.0" cy="690.4" r="5.9"/><circle cx="843.0" cy="694.3" r="5.9"/><circle cx="843.0" cy="698.2" r="5.9"/><circle cx="843.0" cy="700.0" r="5.9"/><circle cx="843.0" cy="703.9" r="5.9"/><circle cx="843.0" cy="707.8" r="5.9"/><circle cx="843.0" cy="711.6" r="5.9"/><circle cx="843.0" cy="715.5" r="5.9"/><circle cx="843.0" cy="719.4" r="5.9"/><circle cx="843.0" cy="723.3" r="5.9"/><circle cx="843.0" cy="727.2" r="5.9"/><circle cx="843.0" cy="731.0" r="5.9"/><circle cx="843.0" cy="734.9" r="5.9"/><circle cx="843.0" cy="738.8" r="5.9"/><circle cx="843.0" cy="742.7" r="5.9"/><circle cx="843.0" cy="746.6" r="5.9"/><circle cx="843.0" cy="750.0" r="5.9"/><circle cx="843.0" cy="753.9" r="5.9"/><circle cx="843.0" cy="757.8" r="5.9"/><circle cx="843.0" cy="761.6" r="5.9"/><circle cx="843.0" cy="765.5" r="5.9"/><circle cx="843.0" cy="769.4" r="5.9"/><circle cx="843.0" cy="773.3" r="5.9"/><circle cx="843.0" cy="777.2" r="5.9"/><circle cx="843.0" cy="781.0" r="5.9"/><circle cx="843.0" cy="784.9" r="5.9"/><circle cx="843.0" cy="788.8" r="5.9"/><circle cx="843.0" cy="790.5" r="5.9"/></g>
<polyline fill="none" stroke="#ff0000" stroke-width="2.6" stroke-linejoin="round" stroke-linecap="round" points="671.2,19.4 671.2,21.0 671.2,22.5 671.2,24.1 671.2,25.6 671.2,27.2 671.4,28.7 671.8,31.0 673.0,34.9 676.0,38.8 681.0,42.7 688.0,46.6 698.0,50.4 718.0,54.3 745.0,58.2 788.0,66.0 816.0,73.7 840.0,81.5 859.0,89.2 873.0,97.0 893.0,116.4 896.5,135.8 890.6,174.6 890.2,213.4 882.5,252.2 875.1,291.0 867.4,329.8 852.6,407.4 847.6,485.0 845.4,562.6 844.9,640.2 844.9,717.8 844.8,795.4"/>
<g fill="#ff0000"><circle cx="671.2" cy="19.4" r="5.9"/><circle cx="671.2" cy="21.0" r="5.9"/><circle cx="671.2" cy="22.5" r="5.9"/><circle cx="671.2" cy="24.1" r="5.9"/><circle cx="671.2" cy="25.6" r="5.9"/><circle cx="671.2" cy="27.2" r="5.9"/><circle cx="671.4" cy="28.7" r="5.9"/><circle cx="671.8" cy="31.0" r="5.9"/><circle cx="673.0" cy="34.9" r="5.9"/><circle cx="676.0" cy="38.8" r="5.9"/><circle cx="681.0" cy="42.7" r="5.9"/><circle cx="688.0" cy="46.6" r="5.9"/><circle cx="698.0" cy="50.4" r="5.9"/><circle cx="718.0" cy="54.3" r="5.9"/><circle cx="745.0" cy="58.2" r="5.9"/><circle cx="788.0" cy="66.0" r="5.9"/><circle cx="816.0" cy="73.7" r="5.9"/><circle cx="840.0" cy="81.5" r="5.9"/><circle cx="859.0" cy="89.2" r="5.9"/><circle cx="873.0" cy="97.0" r="5.9"/><circle cx="893.0" cy="116.4" r="5.9"/><circle cx="896.5" cy="135.8" r="5.9"/><circle cx="890.6" cy="174.6" r="5.9"/><circle cx="890.2" cy="213.4" r="5.9"/><circle cx="882.5" cy="252.2" r="5.9"/><circle cx="875.1" cy="291.0" r="5.9"/><circle cx="867.4" cy="329.8" r="5.9"/><circle cx="852.6" cy="407.4" r="5.9"/><circle cx="847.6" cy="485.0" r="5.9"/><circle cx="845.4" cy="562.6" r="5.9"/><circle cx="844.9" cy="640.2" r="5.9"/><circle cx="844.9" cy="717.8" r="5.9"/><circle cx="844.8" cy="795.4" r="5.9"/></g>
<polyline fill="none" stroke="#ff0000" stroke-width="2.6" stroke-linejoin="round" stroke-linecap="round" points="676.2,19.4 676.2,21.0 676.2,22.5 676.2,24.1 676.2,25.6 676.2,27.2 676.4,28.7 676.8,31.0 678.0,34.9 680.9,38.8 684.9,42.7 690.9,46.6 699.9,50.4 719.0,54.3 745.0,58.2 788.0,66.0 816.0,73.7 840.0,81.5 859.0,89.2 873.0,97.0 893.0,116.4 896.5,135.8 890.6,174.6 890.2,213.4 882.5,252.2 875.1,291.0 867.4,329.8 852.6,407.4 847.6,485.0 845.4,562.6 844.9,640.2 844.9,717.8 844.8,795.4"/>
<g fill="#ff0000"><circle cx="676.2" cy="19.4" r="5.9"/><circle cx="676.2" cy="21.0" r="5.9"/><circle cx="676.2" cy="22.5" r="5.9"/><circle cx="676.2" cy="24.1" r="5.9"/><circle cx="676.2" cy="25.6" r="5.9"/><circle cx="676.2" cy="27.2" r="5.9"/><circle cx="676.4" cy="28.7" r="5.9"/><circle cx="676.8" cy="31.0" r="5.9"/><circle cx="678.0" cy="34.9" r="5.9"/><circle cx="680.9" cy="38.8" r="5.9"/><circle cx="684.9" cy="42.7" r="5.9"/><circle cx="690.9" cy="46.6" r="5.9"/><circle cx="699.9" cy="50.4" r="5.9"/><circle cx="719.0" cy="54.3" r="5.9"/><circle cx="745.0" cy="58.2" r="5.9"/><circle cx="788.0" cy="66.0" r="5.9"/><circle cx="816.0" cy="73.7" r="5.9"/><circle cx="840.0" cy="81.5" r="5.9"/><circle cx="859.0" cy="89.2" r="5.9"/><circle cx="873.0" cy="97.0" r="5.9"/><circle cx="893.0" cy="116.4" r="5.9"/><circle cx="896.5" cy="135.8" r="5.9"/><circle cx="890.6" cy="174.6" r="5.9"/><circle cx="890.2" cy="213.4" r="5.9"/><circle cx="882.5" cy="252.2" r="5.9"/><circle cx="875.1" cy="291.0" r="5.9"/><circle cx="867.4" cy="329.8" r="5.9"/><circle cx="852.6" cy="407.4" r="5.9"/><circle cx="847.6" cy="485.0" r="5.9"/><circle cx="845.4" cy="562.6" r="5.9"/><circle cx="844.9" cy="640.2" r="5.9"/><circle cx="844.9" cy="717.8" r="5.9"/><circle cx="844.8" cy="795.4" r="5.9"/></g>
<polyline fill="none" stroke="#ff0000" stroke-width="2.6" stroke-linejoin="round" stroke-linecap="round" points="681.2,19.4 681.2,21.0 681.2,22.5 681.2,24.1 681.2,25.6 681.2,27.2 681.4,28.7 681.8,31.0 683.0,34.9 685.7,38.8 688.8,42.7 693.8,46.6 701.9,50.4 719.9,54.3 745.0,58.2 788.0,66.0 816.0,73.7 840.0,81.5 859.0,89.2 873.0,97.0 893.0,116.4 896.5,135.8 890.6,174.6 890.2,213.4 882.5,252.2 875.1,291.0 867.4,329.8 852.6,407.4 847.6,485.0 845.4,562.6 844.9,640.2 844.9,717.8 844.8,795.4"/>
<g fill="#ff0000"><circle cx="681.2" cy="19.4" r="5.9"/><circle cx="681.2" cy="21.0" r="5.9"/><circle cx="681.2" cy="22.5" r="5.9"/><circle cx="681.2" cy="24.1" r="5.9"/><circle cx="681.2" cy="25.6" r="5.9"/><circle cx="681.2" cy="27.2" r="5.9"/><circle cx="681.4" cy="28.7" r="5.9"/><circle cx="681.8" cy="31.0" r="5.9"/><circle cx="683.0" cy="34.9" r="5.9"/><circle cx="685.7" cy="38.8" r="5.9"/><circle cx="688.8" cy="42.7" r="5.9"/><circle cx="693.8" cy="46.6" r="5.9"/><circle cx="701.9" cy="50.4" r="5.9"/><circle cx="719.9" cy="54.3" r="5.9"/><circle cx="745.0" cy="58.2" r="5.9"/><circle cx="788.0" cy="66.0" r="5.9"/><circle cx="816.0" cy="73.7" r="5.9"/><circle cx="840.0" cy="81.5" r="5.9"/><circle cx="859.0" cy="89.2" r="5.9"/><circle cx="873.0" cy="97.0" r="5.9"/><circle cx="893.0" cy="116.4" r="5.9"/><circle cx="896.5" cy="135.8" r="5.9"/><circle cx="890.6" cy="174.6" r="5.9"/><circle cx="890.2" cy="213.4" r="5.9"/><circle cx="882.5" cy="252.2" r="5.9"/><circle cx="875.1" cy="291.0" r="5.9"/><circle cx="867.4" cy="329.8" r="5.9"/><circle cx="852.6" cy="407.4" r="5.9"/><circle cx="847.6" cy="485.0" r="5.9"/><circle cx="845.4" cy="562.6" r="5.9"/><circle cx="844.9" cy="640.2" r="5.9"/><circle cx="844.9" cy="717.8" r="5.9"/><circle cx="844.8" cy="795.4" r="5.9"/></g>
<polyline fill="none" stroke="#ff0000" stroke-width="2.6" stroke-linejoin="round" stroke-linecap="round" points="686.2,19.4 686.2,21.0 686.2,22.5 686.2,24.1 686.2,25.6 686.2,27.2 686.4,28.7 686.8,31.0 688.0,34.9 690.5,38.8 692.6,42.7 696.7,46.6 703.8,50.4 720.9,54.3 745.0,58.2 788.0,66.0 816.0,73.7 840.0,81.5 859.0,89.2 873.0,97.0 893.0,116.4 896.5,135.8 890.6,174.6 890.2,213.4 882.5,252.2 875.1,291.0 867.4,329.8 852.6,407.4 847.6,485.0 845.4,562.6 844.9,640.2 844.9,717.8 844.8,795.4"/>
<g fill="#ff0000"><circle cx="686.2" cy="19.4" r="5.9"/><circle cx="686.2" cy="21.0" r="5.9"/><circle cx="686.2" cy="22.5" r="5.9"/><circle cx="686.2" cy="24.1" r="5.9"/><circle cx="686.2" cy="25.6" r="5.9"/><circle cx="686.2" cy="27.2" r="5.9"/><circle cx="686.4" cy="28.7" r="5.9"/><circle cx="686.8" cy="31.0" r="5.9"/><circle cx="688.0" cy="34.9" r="5.9"/><circle cx="690.5" cy="38.8" r="5.9"/><circle cx="692.6" cy="42.7" r="5.9"/><circle cx="696.7" cy="46.6" r="5.9"/><circle cx="703.8" cy="50.4" r="5.9"/><circle cx="720.9" cy="54.3" r="5.9"/><circle cx="745.0" cy="58.2" r="5.9"/><circle cx="788.0" cy="66.0" r="5.9"/><circle cx="816.0" cy="73.7" r="5.9"/><circle cx="840.0" cy="81.5" r="5.9"/><circle cx="859.0" cy="89.2" r="5.9"/><circle cx="873.0" cy="97.0" r="5.9"/><circle cx="893.0" cy="116.4" r="5.9"/><circle cx="896.5" cy="135.8" r="5.9"/><circle cx="890.6" cy="174.6" r="5.9"/><circle cx="890.2" cy="213.4" r="5.9"/><circle cx="882.5" cy="252.2" r="5.9"/><circle cx="875.1" cy="291.0" r="5.9"/><circle cx="867.4" cy="329.8" r="5.9"/><circle cx="852.6" cy="407.4" r="5.9"/><circle cx="847.6" cy="485.0" r="5.9"/><circle cx="845.4" cy="562.6" r="5.9"/><circle cx="844.9" cy="640.2" r="5.9"/><circle cx="844.9" cy="717.8" r="5.9"/><circle cx="844.8" cy="795.4" r="5.9"/></g>
<polyline fill="none" stroke="#ff0000" stroke-width="12.5" stroke-linejoin="round" stroke-linecap="round" points="788.0,66.5 816.0,74.2 840.0,82.0 859.0,89.7 873.0,97.5 893.0,116.9 896.5,136.3"/>
<polyline fill="none" stroke="#ff0000" stroke-width="10.5" stroke-linejoin="round" stroke-linecap="round" points="686.0,47.5 698.0,51.2 718.0,55.3 745.0,59.4 788.0,67.3"/>
<polyline fill="none" stroke="#008000" stroke-width="2.6" stroke-linejoin="round" stroke-linecap="round" points="685.2,19.4 685.2,21.0 685.2,22.5 685.2,24.1 685.2,25.6 685.2,27.2 685.2,28.7 685.2,31.0 685.2,34.9 685.2,38.8 691.2,42.7 700.3,46.6 708.9,50.4 720.2,54.3 735.0,58.2 793.5,66.0 837.3,73.7 861.2,81.5 874.4,89.2 883.6,97.0 895.8,116.4 891.4,135.8 890.2,174.6 886.0,213.4 876.2,252.2 866.5,291.0 859.1,329.8 848.0,407.4 842.0,485.0 840.0,562.6 839.9,640.2 842.6,717.8 844.6,795.4"/>
<g fill="#008000"><circle cx="685.2" cy="19.4" r="5.9"/><circle cx="685.2" cy="21.0" r="5.9"/><circle cx="685.2" cy="22.5" r="5.9"/><circle cx="685.2" cy="24.1" r="5.9"/><circle cx="685.2" cy="25.6" r="5.9"/><circle cx="685.2" cy="27.2" r="5.9"/><circle cx="685.2" cy="28.7" r="5.9"/><circle cx="685.2" cy="31.0" r="5.9"/><circle cx="685.2" cy="34.9" r="5.9"/><circle cx="685.2" cy="38.8" r="5.9"/><circle cx="691.2" cy="42.7" r="5.9"/><circle cx="700.3" cy="46.6" r="5.9"/><circle cx="708.9" cy="50.4" r="5.9"/><circle cx="720.2" cy="54.3" r="5.9"/><circle cx="735.0" cy="58.2" r="5.9"/><circle cx="793.5" cy="66.0" r="5.9"/><circle cx="837.3" cy="73.7" r="5.9"/><circle cx="861.2" cy="81.5" r="5.9"/><circle cx="874.4" cy="89.2" r="5.9"/><circle cx="883.6" cy="97.0" r="5.9"/><circle cx="895.8" cy="116.4" r="5.9"/><circle cx="891.4" cy="135.8" r="5.9"/><circle cx="890.2" cy="174.6" r="5.9"/><circle cx="886.0" cy="213.4" r="5.9"/><circle cx="876.2" cy="252.2" r="5.9"/><circle cx="866.5" cy="291.0" r="5.9"/><circle cx="859.1" cy="329.8" r="5.9"/><circle cx="848.0" cy="407.4" r="5.9"/><circle cx="842.0" cy="485.0" r="5.9"/><circle cx="840.0" cy="562.6" r="5.9"/><circle cx="839.9" cy="640.2" r="5.9"/><circle cx="842.6" cy="717.8" r="5.9"/><circle cx="844.6" cy="795.4" r="5.9"/></g>
<polyline fill="none" stroke="#008000" stroke-width="2.6" stroke-linejoin="round" stroke-linecap="round" points="689.5,19.4 689.5,21.0 689.5,22.5 689.5,24.1 689.5,25.6 689.5,27.2 689.5,28.7 689.5,31.0 689.5,34.9 689.5,38.8 694.6,42.7 702.5,46.6 710.0,50.4 720.2,54.3 735.0,58.2 793.5,66.0 837.3,73.7 861.2,81.5 874.4,89.2 883.6,97.0 895.8,116.4 891.4,135.8 890.2,174.6 886.0,213.4 876.2,252.2 866.5,291.0 859.1,329.8 848.0,407.4 842.0,485.0 840.0,562.6 839.9,640.2 842.6,717.8 844.6,795.4"/>
<g fill="#008000"><circle cx="689.5" cy="19.4" r="5.9"/><circle cx="689.5" cy="21.0" r="5.9"/><circle cx="689.5" cy="22.5" r="5.9"/><circle cx="689.5" cy="24.1" r="5.9"/><circle cx="689.5" cy="25.6" r="5.9"/><circle cx="689.5" cy="27.2" r="5.9"/><circle cx="689.5" cy="28.7" r="5.9"/><circle cx="689.5" cy="31.0" r="5.9"/><circle cx="689.5" cy="34.9" r="5.9"/><circle cx="689.5" cy="38.8" r="5.9"/><circle cx="694.6" cy="42.7" r="5.9"/><circle cx="702.5" cy="46.6" r="5.9"/><circle cx="710.0" cy="50.4" r="5.9"/><circle cx="720.2" cy="54.3" r="5.9"/><circle cx="735.0" cy="58.2" r="5.9"/><circle cx="793.5" cy="66.0" r="5.9"/><circle cx="837.3" cy="73.7" r="5.9"/><circle cx="861.2" cy="81.5" r="5.9"/><circle cx="874.4" cy="89.2" r="5.9"/><circle cx="883.6" cy="97.0" r="5.9"/><circle cx="895.8" cy="116.4" r="5.9"/><circle cx="891.4" cy="135.8" r="5.9"/><circle cx="890.2" cy="174.6" r="5.9"/><circle cx="886.0" cy="213.4" r="5.9"/><circle cx="876.2" cy="252.2" r="5.9"/><circle cx="866.5" cy="291.0" r="5.9"/><circle cx="859.1" cy="329.8" r="5.9"/><circle cx="848.0" cy="407.4" r="5.9"/><circle cx="842.0" cy="485.0" r="5.9"/><circle cx="840.0" cy="562.6" r="5.9"/><circle cx="839.9" cy="640.2" r="5.9"/><circle cx="842.6" cy="717.8" r="5.9"/><circle cx="844.6" cy="795.4" r="5.9"/></g>
<polyline fill="none" stroke="#008000" stroke-width="10.5" stroke-linejoin="round" stroke-linecap="round" points="687.5,38.5 693.0,42.4 701.5,46.3 709.5,50.1 720.2,54.0"/>
<polyline fill="none" stroke="#ff00ff" stroke-width="2.6" stroke-linejoin="round" stroke-linecap="round" points="648.4,19.8 648.4,20.6 648.4,21.5 648.4,22.4 648.4,23.3 648.4,24.4 648.4,25.6 648.4,26.8 648.4,28.2 648.4,29.9 648.4,31.7 648.4,33.8 649.2,36.2 648.9,39.0 651.0,42.2 666.4,46.1 699.8,50.7 743.6,56.2 784.3,62.7 819.0,70.5 854.6,79.8 885.6,91.0 900.4,104.6 903.4,120.8 901.4,140.3 899.3,163.8 895.4,192.0 888.5,225.8 881.6,266.3 869.4,314.4 857.4,371.7 850.2,439.3 846.5,518.8 842.4,611.7 842.9,719.6"/>
<g fill="#ff00ff"><circle cx="648.4" cy="19.8" r="5.9"/><circle cx="648.4" cy="20.6" r="5.9"/><circle cx="648.4" cy="21.5" r="5.9"/><circle cx="648.4" cy="22.4" r="5.9"/><circle cx="648.4" cy="23.3" r="5.9"/><circle cx="648.4" cy="24.4" r="5.9"/><circle cx="648.4" cy="25.6" r="5.9"/><circle cx="648.4" cy="26.8" r="5.9"/><circle cx="648.4" cy="28.2" r="5.9"/><circle cx="648.4" cy="29.9" r="5.9"/><circle cx="648.4" cy="31.7" r="5.9"/><circle cx="648.4" cy="33.8" r="5.9"/><circle cx="649.2" cy="36.2" r="5.9"/><circle cx="648.9" cy="39.0" r="5.9"/><circle cx="651.0" cy="42.2" r="5.9"/><circle cx="666.4" cy="46.1" r="5.9"/><circle cx="699.8" cy="50.7" r="5.9"/><circle cx="743.6" cy="56.2" r="5.9"/><circle cx="784.3" cy="62.7" r="5.9"/><circle cx="819.0" cy="70.5" r="5.9"/><circle cx="854.6" cy="79.8" r="5.9"/><circle cx="885.6" cy="91.0" r="5.9"/><circle cx="900.4" cy="104.6" r="5.9"/><circle cx="903.4" cy="120.8" r="5.9"/><circle cx="901.4" cy="140.3" r="5.9"/><circle cx="899.3" cy="163.8" r="5.9"/><circle cx="895.4" cy="192.0" r="5.9"/><circle cx="888.5" cy="225.8" r="5.9"/><circle cx="881.6" cy="266.3" r="5.9"/><circle cx="869.4" cy="314.4" r="5.9"/><circle cx="857.4" cy="371.7" r="5.9"/><circle cx="850.2" cy="439.3" r="5.9"/><circle cx="846.5" cy="518.8" r="5.9"/><circle cx="842.4" cy="611.7" r="5.9"/><circle cx="842.9" cy="719.6" r="5.9"/></g>
<polyline fill="none" stroke="#ff00ff" stroke-width="2.6" stroke-linejoin="round" stroke-linecap="round" points="651.6,19.8 651.6,20.6 651.6,21.5 651.6,22.4 651.6,23.3 651.6,24.4 651.6,25.6 651.6,26.8 651.6,28.2 651.6,29.9 651.6,31.7 651.6,33.8 651.4,36.2 649.6,39.0 651.0,42.2 666.4,46.1 699.8,50.7 743.6,56.2 784.3,62.7 819.0,70.5 854.6,79.8 885.6,91.0 900.4,104.6 903.4,120.8 901.4,140.3 899.3,163.8 895.4,192.0 888.5,225.8 881.6,266.3 869.4,314.4 857.4,371.7 850.2,439.3 846.5,518.8 842.4,611.7 842.9,719.6"/>
<g fill="#ff00ff"><circle cx="651.6" cy="19.8" r="5.9"/><circle cx="651.6" cy="20.6" r="5.9"/><circle cx="651.6" cy="21.5" r="5.9"/><circle cx="651.6" cy="22.4" r="5.9"/><circle cx="651.6" cy="23.3" r="5.9"/><circle cx="651.6" cy="24.4" r="5.9"/><circle cx="651.6" cy="25.6" r="5.9"/><circle cx="651.6" cy="26.8" r="5.9"/><circle cx="651.6" cy="28.2" r="5.9"/><circle cx="651.6" cy="29.9" r="5.9"/><circle cx="651.6" cy="31.7" r="5.9"/><circle cx="651.6" cy="33.8" r="5.9"/><circle cx="651.4" cy="36.2" r="5.9"/><circle cx="649.6" cy="39.0" r="5.9"/><circle cx="651.0" cy="42.2" r="5.9"/><circle cx="666.4" cy="46.1" r="5.9"/><circle cx="699.8" cy="50.7" r="5.9"/><circle cx="743.6" cy="56.2" r="5.9"/><circle cx="784.3" cy="62.7" r="5.9"/><circle cx="819.0" cy="70.5" r="5.9"/><circle cx="854.6" cy="79.8" r="5.9"/><circle cx="885.6" cy="91.0" r="5.9"/><circle cx="900.4" cy="104.6" r="5.9"/><circle cx="903.4" cy="120.8" r="5.9"/><circle cx="901.4" cy="140.3" r="5.9"/><circle cx="899.3" cy="163.8" r="5.9"/><circle cx="895.4" cy="192.0" r="5.9"/><circle cx="888.5" cy="225.8" r="5.9"/><circle cx="881.6" cy="266.3" r="5.9"/><circle cx="869.4" cy="314.4" r="5.9"/><circle cx="857.4" cy="371.7" r="5.9"/><circle cx="850.2" cy="439.3" r="5.9"/><circle cx="846.5" cy="518.8" r="5.9"/><circle cx="842.4" cy="611.7" r="5.9"/><circle cx="842.9" cy="719.6" r="5.9"/></g>
<g fill="#ff00ff"><circle cx="654.2" cy="19.8" r="5.9"/><circle cx="653.6" cy="20.6" r="5.9"/><circle cx="652.8" cy="21.5" r="5.9"/></g>
</g>
<rect x="595.6" y="19.45" width="378.00" height="784.10" fill="none" stroke="#000" stroke-width="1.35"/>
<g stroke="#000" stroke-width="1.35">
<line x1="620.5" y1="803.55" x2="620.5" y2="809.95"/>
<line x1="727.5" y1="803.55" x2="727.5" y2="809.95"/>
<line x1="833.5" y1="803.55" x2="833.5" y2="809.95"/>
<line x1="940.5" y1="803.55" x2="940.5" y2="809.95"/>
<line x1="589.20" y1="19.5" x2="595.6" y2="19.5"/>
<line x1="589.20" y1="96.5" x2="595.6" y2="96.5"/>
<line x1="589.20" y1="174.5" x2="595.6" y2="174.5"/>
<line x1="589.20" y1="251.5" x2="595.6" y2="251.5"/>
<line x1="589.20" y1="329.5" x2="595.6" y2="329.5"/>
<line x1="589.20" y1="407.5" x2="595.6" y2="407.5"/>
<line x1="589.20" y1="484.5" x2="595.6" y2="484.5"/>
<line x1="589.20" y1="562.5" x2="595.6" y2="562.5"/>
<line x1="589.20" y1="640.5" x2="595.6" y2="640.5"/>
<line x1="589.20" y1="717.5" x2="595.6" y2="717.5"/>
<line x1="589.20" y1="795.5" x2="595.6" y2="795.5"/>
</g>
<text x="620.40" y="830.10" font-size="17.71" text-anchor="middle" textLength="38.74" lengthAdjust="spacingAndGlyphs">33.5</text>
<text x="727.10" y="830.10" font-size="17.71" text-anchor="middle" textLength="38.74" lengthAdjust="spacingAndGlyphs">34.0</text>
<text x="833.80" y="830.10" font-size="17.71" text-anchor="middle" textLength="38.74" lengthAdjust="spacingAndGlyphs">34.5</text>
<text x="940.50" y="830.10" font-size="17.71" text-anchor="middle" textLength="38.74" lengthAdjust="spacingAndGlyphs">35.0</text>
<g stroke="#b0b0b0" stroke-width="1" stroke-dasharray="3.2 1.4" fill="none">
<line x1="1147.5" y1="803.55" x2="1147.5" y2="19.45"/>
<line x1="1208.5" y1="803.55" x2="1208.5" y2="19.45"/>
<line x1="1270.5" y1="803.55" x2="1270.5" y2="19.45"/>
<line x1="1331.5" y1="803.55" x2="1331.5" y2="19.45"/>
<line x1="1392.5" y1="803.55" x2="1392.5" y2="19.45"/>
<line x1="1454.5" y1="803.55" x2="1454.5" y2="19.45"/>
<line x1="1091.5" y1="19.5" x2="1470.8" y2="19.5"/>
<line x1="1091.5" y1="96.5" x2="1470.8" y2="96.5"/>
<line x1="1091.5" y1="174.5" x2="1470.8" y2="174.5"/>
<line x1="1091.5" y1="251.5" x2="1470.8" y2="251.5"/>
<line x1="1091.5" y1="329.5" x2="1470.8" y2="329.5"/>
<line x1="1091.5" y1="407.5" x2="1470.8" y2="407.5"/>
<line x1="1091.5" y1="484.5" x2="1470.8" y2="484.5"/>
<line x1="1091.5" y1="562.5" x2="1470.8" y2="562.5"/>
<line x1="1091.5" y1="640.5" x2="1470.8" y2="640.5"/>
<line x1="1091.5" y1="717.5" x2="1470.8" y2="717.5"/>
<line x1="1091.5" y1="795.5" x2="1470.8" y2="795.5"/>
</g>
<clipPath id="cp2"><rect x="1091.5" y="19.45" width="379.30" height="784.10"/></clipPath>
<g clip-path="url(#cp2)">
<polyline fill="none" stroke="#00ffff" stroke-width="12.8" stroke-linejoin="round" stroke-linecap="round" points="1123.6,19.4 1124.4,30.0 1127.8,36.0 1133.6,42.0 1138.0,48.0 1141.0,54.0 1143.0,58.8 1156.0,62.5 1179.0,63.6 1190.0,64.3 1205.5,63.3 1221.8,68.0 1238.6,72.1 1248.8,76.1 1255.9,80.2 1263.0,84.3 1272.0,90.0 1281.3,95.5 1287.0,101.0 1292.3,110.0 1297.0,120.0 1301.0,131.4 1306.0,150.0 1310.5,175.0 1315.0,200.0 1321.0,217.0 1325.9,234.0 1332.5,266.3"/>
<polyline fill="none" stroke="#00ffff" stroke-width="12.5" stroke-linejoin="round" stroke-linecap="round" points="1142.5,51.0 1144.5,55.8 1157.5,59.5 1180.5,60.6 1191.5,61.3 1207.0,60.3 1223.3,65.0 1240.1,69.1 1250.3,73.1 1257.4,77.2 1264.5,81.3 1273.5,87.0 1282.8,92.5"/>
<polyline fill="none" stroke="#00ffff" stroke-width="12" stroke-linejoin="round" stroke-linecap="round" points="1141.0,61.4"/>
<polyline fill="none" stroke="#00ffff" stroke-width="12" stroke-linejoin="round" stroke-linecap="round" points="1154.0,65.7 1177.0,66.8 1188.0,67.5 1203.5,66.5"/>
<polyline fill="none" stroke="#00ffff" stroke-width="11.8" stroke-linejoin="round" stroke-linecap="round" points="1141.5,46.2 1152.0,50.9 1163.0,54.8"/>
<polyline fill="none" stroke="#0000ff" stroke-width="2.6" stroke-linejoin="round" stroke-linecap="round" points="1123.6,19.4 1124.4,30.0 1127.8,36.0 1133.6,42.0 1138.0,48.0 1141.0,54.0 1143.0,58.8 1156.0,62.5 1179.0,63.6 1190.0,64.3 1205.5,63.3 1221.8,68.0 1238.6,72.1 1248.8,76.1 1255.9,80.2 1263.0,84.3 1272.0,90.0 1281.3,95.5 1287.0,101.0 1292.3,110.0 1297.0,120.0 1301.0,131.4 1306.0,150.0 1310.5,175.0 1315.0,200.0 1321.0,217.0 1325.9,234.0 1332.5,266.3 1345.3,313.8 1359.2,371.3 1375.7,439.6 1394.8,518.0 1415.6,611.0 1439.5,719.0 1452.8,790.5"/>
<g fill="#0000ff"><circle cx="1123.6" cy="19.4" r="5.9"/><circle cx="1123.9" cy="23.3" r="5.9"/><circle cx="1124.2" cy="27.2" r="5.9"/><circle cx="1124.4" cy="30.0" r="5.9"/><circle cx="1126.6" cy="33.9" r="5.9"/><circle cx="1127.8" cy="36.0" r="5.9"/><circle cx="1131.6" cy="39.9" r="5.9"/><circle cx="1133.6" cy="42.0" r="5.9"/><circle cx="1136.4" cy="45.9" r="5.9"/><circle cx="1138.0" cy="48.0" r="5.9"/><circle cx="1139.9" cy="51.9" r="5.9"/><circle cx="1141.0" cy="54.0" r="5.9"/><circle cx="1142.6" cy="57.9" r="5.9"/><circle cx="1156.0" cy="62.5" r="5.9"/><circle cx="1179.0" cy="63.6" r="5.9"/><circle cx="1190.0" cy="64.3" r="5.9"/><circle cx="1205.5" cy="63.3" r="5.9"/><circle cx="1219.0" cy="67.2" r="5.9"/><circle cx="1237.7" cy="71.9" r="5.9"/><circle cx="1248.5" cy="76.0" r="5.9"/><circle cx="1255.5" cy="80.0" r="5.9"/><circle cx="1262.6" cy="84.1" r="5.9"/><circle cx="1269.1" cy="88.2" r="5.9"/><circle cx="1272.0" cy="90.0" r="5.9"/><circle cx="1278.6" cy="93.9" r="5.9"/><circle cx="1281.3" cy="95.5" r="5.9"/><circle cx="1285.3" cy="99.4" r="5.9"/><circle cx="1287.0" cy="101.0" r="5.9"/><circle cx="1289.3" cy="104.9" r="5.9"/><circle cx="1291.6" cy="108.8" r="5.9"/><circle cx="1294.1" cy="113.9" r="5.9"/><circle cx="1295.9" cy="117.8" r="5.9"/><circle cx="1297.0" cy="120.0" r="5.9"/><circle cx="1298.4" cy="123.9" r="5.9"/><circle cx="1299.7" cy="127.8" r="5.9"/><circle cx="1301.0" cy="131.4" r="5.9"/><circle cx="1302.0" cy="135.3" r="5.9"/><circle cx="1303.1" cy="139.2" r="5.9"/><circle cx="1304.1" cy="143.0" r="5.9"/><circle cx="1305.2" cy="146.9" r="5.9"/><circle cx="1306.0" cy="150.0" r="5.9"/><circle cx="1306.7" cy="153.9" r="5.9"/><circle cx="1307.4" cy="157.8" r="5.9"/><circle cx="1308.1" cy="161.6" r="5.9"/><circle cx="1308.8" cy="165.5" r="5.9"/><circle cx="1309.5" cy="169.4" r="5.9"/><circle cx="1310.2" cy="173.3" r="5.9"/><circle cx="1310.5" cy="175.0" r="5.9"/><circle cx="1311.2" cy="178.9" r="5.9"/><circle cx="1311.9" cy="182.8" r="5.9"/><circle cx="1312.6" cy="186.6" r="5.9"/><circle cx="1313.3" cy="190.5" r="5.9"/><circle cx="1314.0" cy="194.4" r="5.9"/><circle cx="1314.7" cy="198.3" r="5.9"/><circle cx="1315.0" cy="200.0" r="5.9"/><circle cx="1316.4" cy="203.9" r="5.9"/><circle cx="1317.7" cy="207.8" r="5.9"/><circle cx="1319.1" cy="211.6" r="5.9"/><circle cx="1320.5" cy="215.5" r="5.9"/><circle cx="1322.1" cy="220.9" r="5.9"/><circle cx="1323.2" cy="224.8" r="5.9"/><circle cx="1324.4" cy="228.6" r="5.9"/><circle cx="1325.5" cy="232.5" r="5.9"/><circle cx="1326.7" cy="237.9" r="5.9"/><circle cx="1327.5" cy="241.8" r="5.9"/><circle cx="1328.3" cy="245.6" r="5.9"/><circle cx="1329.1" cy="249.5" r="5.9"/><circle cx="1329.9" cy="253.4" r="5.9"/><circle cx="1330.7" cy="257.3" r="5.9"/><circle cx="1331.4" cy="261.2" r="5.9"/><circle cx="1332.2" cy="265.0" r="5.9"/><circle cx="1333.5" cy="270.2" r="5.9"/><circle cx="1334.6" cy="274.1" r="5.9"/><circle cx="1335.6" cy="277.9" r="5.9"/><circle cx="1336.7" cy="281.8" r="5.9"/><circle cx="1337.7" cy="285.7" r="5.9"/><circle cx="1338.8" cy="289.6" r="5.9"/><circle cx="1339.8" cy="293.5" r="5.9"/><circle cx="1340.9" cy="297.3" r="5.9"/><circle cx="1341.9" cy="301.2" r="5.9"/><circle cx="1343.0" cy="305.1" r="5.9"/><circle cx="1344.0" cy="309.0" r="5.9"/><circle cx="1345.0" cy="312.9" r="5.9"/><circle cx="1346.2" cy="317.7" r="5.9"/><circle cx="1347.2" cy="321.6" r="5.9"/><circle cx="1348.1" cy="325.4" r="5.9"/><circle cx="1349.1" cy="329.3" r="5.9"/><circle cx="1350.0" cy="333.2" r="5.9"/><circle cx="1350.9" cy="337.1" r="5.9"/><circle cx="1351.9" cy="341.0" r="5.9"/><circle cx="1352.8" cy="344.8" r="5.9"/><circle cx="1353.7" cy="348.7" r="5.9"/><circle cx="1354.7" cy="352.6" r="5.9"/><circle cx="1355.6" cy="356.5" r="5.9"/><circle cx="1356.6" cy="360.4" r="5.9"/><circle cx="1357.5" cy="364.2" r="5.9"/><circle cx="1358.4" cy="368.1" r="5.9"/><circle cx="1359.2" cy="371.3" r="5.9"/><circle cx="1360.1" cy="375.2" r="5.9"/><circle cx="1361.1" cy="379.1" r="5.9"/><circle cx="1362.0" cy="382.9" r="5.9"/><circle cx="1362.9" cy="386.8" r="5.9"/><circle cx="1363.9" cy="390.7" r="5.9"/><circle cx="1364.8" cy="394.6" r="5.9"/><circle cx="1365.8" cy="398.5" r="5.9"/><circle cx="1366.7" cy="402.3" r="5.9"/><circle cx="1367.6" cy="406.2" r="5.9"/><circle cx="1368.6" cy="410.1" r="5.9"/><circle cx="1369.5" cy="414.0" r="5.9"/><circle cx="1370.4" cy="417.9" r="5.9"/><circle cx="1371.4" cy="421.7" r="5.9"/><circle cx="1372.3" cy="425.6" r="5.9"/><circle cx="1373.3" cy="429.5" r="5.9"/><circle cx="1374.2" cy="433.4" r="5.9"/><circle cx="1375.1" cy="437.3" r="5.9"/><circle cx="1375.7" cy="439.6" r="5.9"/><circle cx="1376.6" cy="443.5" r="5.9"/><circle cx="1377.6" cy="447.4" r="5.9"/><circle cx="1378.5" cy="451.2" r="5.9"/><circle cx="1379.5" cy="455.1" r="5.9"/><circle cx="1380.4" cy="459.0" r="5.9"/><circle cx="1381.4" cy="462.9" r="5.9"/><circle cx="1382.3" cy="466.8" r="5.9"/><circle cx="1383.3" cy="470.6" r="5.9"/><circle cx="1384.2" cy="474.5" r="5.9"/><circle cx="1385.2" cy="478.4" r="5.9"/><circle cx="1386.1" cy="482.3" r="5.9"/><circle cx="1387.0" cy="486.2" r="5.9"/><circle cx="1388.0" cy="490.0" r="5.9"/><circle cx="1388.9" cy="493.9" r="5.9"/><circle cx="1389.9" cy="497.8" r="5.9"/><circle cx="1390.8" cy="501.7" r="5.9"/><circle cx="1391.8" cy="505.6" r="5.9"/><circle cx="1392.7" cy="509.4" r="5.9"/><circle cx="1393.7" cy="513.3" r="5.9"/><circle cx="1394.6" cy="517.2" r="5.9"/><circle cx="1395.7" cy="521.9" r="5.9"/><circle cx="1396.5" cy="525.8" r="5.9"/><circle cx="1397.4" cy="529.6" r="5.9"/><circle cx="1398.3" cy="533.5" r="5.9"/><circle cx="1399.1" cy="537.4" r="5.9"/><circle cx="1400.0" cy="541.3" r="5.9"/><circle cx="1400.9" cy="545.2" r="5.9"/><circle cx="1401.7" cy="549.0" r="5.9"/><circle cx="1402.6" cy="552.9" r="5.9"/><circle cx="1403.5" cy="556.8" r="5.9"/><circle cx="1404.3" cy="560.7" r="5.9"/><circle cx="1405.2" cy="564.6" r="5.9"/><circle cx="1406.1" cy="568.4" r="5.9"/><circle cx="1406.9" cy="572.3" r="5.9"/><circle cx="1407.8" cy="576.2" r="5.9"/><circle cx="1408.7" cy="580.1" r="5.9"/><circle cx="1409.6" cy="584.0" r="5.9"/><circle cx="1410.4" cy="587.8" r="5.9"/><circle cx="1411.3" cy="591.7" r="5.9"/><circle cx="1412.2" cy="595.6" r="5.9"/><circle cx="1413.0" cy="599.5" r="5.9"/><circle cx="1413.9" cy="603.4" r="5.9"/><circle cx="1414.8" cy="607.2" r="5.9"/><circle cx="1415.6" cy="611.0" r="5.9"/><circle cx="1416.5" cy="614.9" r="5.9"/><circle cx="1417.3" cy="618.8" r="5.9"/><circle cx="1418.2" cy="622.6" r="5.9"/><circle cx="1419.0" cy="626.5" r="5.9"/><circle cx="1419.9" cy="630.4" r="5.9"/><circle cx="1420.8" cy="634.3" r="5.9"/><circle cx="1421.6" cy="638.2" r="5.9"/><circle cx="1422.5" cy="642.0" r="5.9"/><circle cx="1423.3" cy="645.9" r="5.9"/><circle cx="1424.2" cy="649.8" r="5.9"/><circle cx="1425.0" cy="653.7" r="5.9"/><circle cx="1425.9" cy="657.6" r="5.9"/><circle cx="1426.8" cy="661.4" r="5.9"/><circle cx="1427.6" cy="665.3" r="5.9"/><circle cx="1428.5" cy="669.2" r="5.9"/><circle cx="1429.3" cy="673.1" r="5.9"/><circle cx="1430.2" cy="677.0" r="5.9"/><circle cx="1431.1" cy="680.8" r="5.9"/><circle cx="1431.9" cy="684.7" r="5.9"/><circle cx="1432.8" cy="688.6" r="5.9"/><circle cx="1433.6" cy="692.5" r="5.9"/><circle cx="1434.5" cy="696.4" r="5.9"/><circle cx="1435.3" cy="700.2" r="5.9"/><circle cx="1436.2" cy="704.1" r="5.9"/><circle cx="1437.1" cy="708.0" r="5.9"/><circle cx="1437.9" cy="711.9" r="5.9"/><circle cx="1438.8" cy="715.8" r="5.9"/><circle cx="1439.5" cy="719.0" r="5.9"/><circle cx="1440.2" cy="722.9" r="5.9"/><circle cx="1440.9" cy="726.8" r="5.9"/><circle cx="1441.7" cy="730.6" r="5.9"/><circle cx="1442.4" cy="734.5" r="5.9"/><circle cx="1443.1" cy="738.4" r="5.9"/><circle cx="1443.8" cy="742.3" r="5.9"/><circle cx="1444.6" cy="746.2" r="5.9"/><circle cx="1445.3" cy="750.0" r="5.9"/><circle cx="1446.0" cy="753.9" r="5.9"/><circle cx="1446.7" cy="757.8" r="5.9"/><circle cx="1447.4" cy="761.7" r="5.9"/><circle cx="1448.2" cy="765.6" r="5.9"/><circle cx="1448.9" cy="769.4" r="5.9"/><circle cx="1449.6" cy="773.3" r="5.9"/><circle cx="1450.3" cy="777.2" r="5.9"/><circle cx="1451.0" cy="781.1" r="5.9"/><circle cx="1451.8" cy="785.0" r="5.9"/><circle cx="1452.5" cy="788.8" r="5.9"/><circle cx="1452.8" cy="790.5" r="5.9"/></g>
<polyline fill="none" stroke="#ff0000" stroke-width="9" stroke-linejoin="round" stroke-linecap="round" points="1187.5,66.6 1209.0,74.3 1232.5,82.1 1251.0,89.8 1267.0,97.6 1284.6,117.0 1295.0,136.4"/>
<polyline fill="none" stroke="#ff0000" stroke-width="2.6" stroke-linejoin="round" stroke-linecap="round" points="1122.0,19.4 1122.0,21.0 1122.0,22.5 1122.0,24.1 1122.0,25.6 1122.0,27.2 1122.0,28.7 1122.0,31.0 1122.0,34.9 1122.0,38.8 1130.0,42.7 1134.5,46.6 1140.0,50.4 1146.0,54.3 1156.0,58.2 1187.5,66.0 1209.0,73.7 1232.5,81.5 1251.0,89.2 1267.0,97.0 1284.6,116.4 1295.0,135.8 1306.2,174.6 1318.6,213.4 1328.0,252.2 1338.0,291.0 1348.0,329.8 1368.0,407.4 1386.5,485.0 1402.4,562.6 1420.0,640.2 1437.5,717.8 1454.0,795.4"/>
<g fill="#ff0000"><circle cx="1122.0" cy="19.4" r="5.9"/><circle cx="1122.0" cy="21.0" r="5.9"/><circle cx="1122.0" cy="22.5" r="5.9"/><circle cx="1122.0" cy="24.1" r="5.9"/><circle cx="1122.0" cy="25.6" r="5.9"/><circle cx="1122.0" cy="27.2" r="5.9"/><circle cx="1122.0" cy="28.7" r="5.9"/><circle cx="1122.0" cy="31.0" r="5.9"/><circle cx="1122.0" cy="34.9" r="5.9"/><circle cx="1122.0" cy="38.8" r="5.9"/><circle cx="1130.0" cy="42.7" r="5.9"/><circle cx="1134.5" cy="46.6" r="5.9"/><circle cx="1140.0" cy="50.4" r="5.9"/><circle cx="1146.0" cy="54.3" r="5.9"/><circle cx="1156.0" cy="58.2" r="5.9"/><circle cx="1187.5" cy="66.0" r="5.9"/><circle cx="1209.0" cy="73.7" r="5.9"/><circle cx="1232.5" cy="81.5" r="5.9"/><circle cx="1251.0" cy="89.2" r="5.9"/><circle cx="1267.0" cy="97.0" r="5.9"/><circle cx="1284.6" cy="116.4" r="5.9"/><circle cx="1295.0" cy="135.8" r="5.9"/><circle cx="1306.2" cy="174.6" r="5.9"/><circle cx="1318.6" cy="213.4" r="5.9"/><circle cx="1328.0" cy="252.2" r="5.9"/><circle cx="1338.0" cy="291.0" r="5.9"/><circle cx="1348.0" cy="329.8" r="5.9"/><circle cx="1368.0" cy="407.4" r="5.9"/><circle cx="1386.5" cy="485.0" r="5.9"/><circle cx="1402.4" cy="562.6" r="5.9"/><circle cx="1420.0" cy="640.2" r="5.9"/><circle cx="1437.5" cy="717.8" r="5.9"/><circle cx="1454.0" cy="795.4" r="5.9"/></g>
<g fill="#ff0000"><circle cx="1148.6" cy="51.6" r="5.9"/></g>
<polyline fill="none" stroke="#008000" stroke-width="2.6" stroke-linejoin="round" stroke-linecap="round" points="1123.6,19.4 1123.6,21.0 1123.6,22.5 1123.7,24.1 1123.7,25.6 1123.7,27.2 1123.7,28.7 1123.8,31.0 1123.8,34.9 1126.6,38.8 1131.0,42.7 1135.0,46.6 1139.0,50.4 1144.5,54.3 1154.0,58.2 1188.0,66.0 1221.8,73.7 1243.7,81.5 1259.5,89.2 1271.6,97.0 1290.0,116.4 1304.5,135.8 1311.9,174.6 1319.4,213.4 1329.4,252.2 1339.1,291.0 1349.0,329.8 1369.2,407.4 1388.1,485.0 1405.4,562.6 1421.3,640.2 1438.5,717.8 1454.5,795.4"/>
<g fill="#008000"><circle cx="1123.6" cy="19.4" r="5.9"/><circle cx="1123.6" cy="21.0" r="5.9"/><circle cx="1123.6" cy="22.5" r="5.9"/><circle cx="1123.7" cy="24.1" r="5.9"/><circle cx="1123.7" cy="25.6" r="5.9"/><circle cx="1123.7" cy="27.2" r="5.9"/><circle cx="1123.7" cy="28.7" r="5.9"/><circle cx="1123.8" cy="31.0" r="5.9"/><circle cx="1123.8" cy="34.9" r="5.9"/><circle cx="1126.6" cy="38.8" r="5.9"/><circle cx="1131.0" cy="42.7" r="5.9"/><circle cx="1135.0" cy="46.6" r="5.9"/><circle cx="1139.0" cy="50.4" r="5.9"/><circle cx="1144.5" cy="54.3" r="5.9"/><circle cx="1154.0" cy="58.2" r="5.9"/><circle cx="1188.0" cy="66.0" r="5.9"/><circle cx="1221.8" cy="73.7" r="5.9"/><circle cx="1243.7" cy="81.5" r="5.9"/><circle cx="1259.5" cy="89.2" r="5.9"/><circle cx="1271.6" cy="97.0" r="5.9"/><circle cx="1290.0" cy="116.4" r="5.9"/><circle cx="1304.5" cy="135.8" r="5.9"/><circle cx="1311.9" cy="174.6" r="5.9"/><circle cx="1319.4" cy="213.4" r="5.9"/><circle cx="1329.4" cy="252.2" r="5.9"/><circle cx="1339.1" cy="291.0" r="5.9"/><circle cx="1349.0" cy="329.8" r="5.9"/><circle cx="1369.2" cy="407.4" r="5.9"/><circle cx="1388.1" cy="485.0" r="5.9"/><circle cx="1405.4" cy="562.6" r="5.9"/><circle cx="1421.3" cy="640.2" r="5.9"/><circle cx="1438.5" cy="717.8" r="5.9"/><circle cx="1454.5" cy="795.4" r="5.9"/></g>
<polyline fill="none" stroke="#ff00ff" stroke-width="2.6" stroke-linejoin="round" stroke-linecap="round" points="1106.5,19.8 1106.5,20.6 1106.5,21.5 1106.5,22.4 1108.5,23.3 1111.0,24.4 1113.5,25.6 1115.5,26.8"/>
<g fill="#ff00ff"><circle cx="1106.5" cy="19.8" r="5.9"/><circle cx="1106.5" cy="20.6" r="5.9"/><circle cx="1106.5" cy="21.5" r="5.9"/><circle cx="1106.5" cy="22.4" r="5.9"/><circle cx="1108.5" cy="23.3" r="5.9"/><circle cx="1111.0" cy="24.4" r="5.9"/><circle cx="1113.5" cy="25.6" r="5.9"/><circle cx="1115.5" cy="26.8" r="5.9"/></g>
<polyline fill="none" stroke="#ff00ff" stroke-width="2.6" stroke-linejoin="round" stroke-linecap="round" points="1114.5,19.8 1114.5,20.6 1114.5,21.5 1114.5,22.4 1114.5,23.3 1114.5,24.4 1115.0,25.6 1115.5,26.8 1116.0,28.2 1116.5,29.9 1117.0,31.7 1117.5,33.8 1119.0,36.2 1121.0,39.0 1123.0,42.2 1126.0,46.1 1137.5,50.7 1156.2,56.2 1181.2,62.7 1213.7,70.5 1245.7,79.8 1270.2,91.0 1286.5,104.6 1295.6,120.8 1302.5,140.3 1308.5,163.8 1315.3,192.0 1323.4,225.8 1332.5,266.3 1345.3,314.4 1359.2,371.7 1375.7,439.3 1394.8,518.8 1415.6,611.7 1439.5,719.6"/>
<g fill="#ff00ff"><circle cx="1114.5" cy="19.8" r="5.9"/><circle cx="1114.5" cy="20.6" r="5.9"/><circle cx="1114.5" cy="21.5" r="5.9"/><circle cx="1114.5" cy="22.4" r="5.9"/><circle cx="1114.5" cy="23.3" r="5.9"/><circle cx="1114.5" cy="24.4" r="5.9"/><circle cx="1115.0" cy="25.6" r="5.9"/><circle cx="1115.5" cy="26.8" r="5.9"/><circle cx="1116.0" cy="28.2" r="5.9"/><circle cx="1116.5" cy="29.9" r="5.9"/><circle cx="1117.0" cy="31.7" r="5.9"/><circle cx="1117.5" cy="33.8" r="5.9"/><circle cx="1119.0" cy="36.2" r="5.9"/><circle cx="1121.0" cy="39.0" r="5.9"/><circle cx="1123.0" cy="42.2" r="5.9"/><circle cx="1126.0" cy="46.1" r="5.9"/><circle cx="1137.5" cy="50.7" r="5.9"/><circle cx="1156.2" cy="56.2" r="5.9"/><circle cx="1181.2" cy="62.7" r="5.9"/><circle cx="1213.7" cy="70.5" r="5.9"/><circle cx="1245.7" cy="79.8" r="5.9"/><circle cx="1270.2" cy="91.0" r="5.9"/><circle cx="1286.5" cy="104.6" r="5.9"/><circle cx="1295.6" cy="120.8" r="5.9"/><circle cx="1302.5" cy="140.3" r="5.9"/><circle cx="1308.5" cy="163.8" r="5.9"/><circle cx="1315.3" cy="192.0" r="5.9"/><circle cx="1323.4" cy="225.8" r="5.9"/><circle cx="1332.5" cy="266.3" r="5.9"/><circle cx="1345.3" cy="314.4" r="5.9"/><circle cx="1359.2" cy="371.7" r="5.9"/><circle cx="1375.7" cy="439.3" r="5.9"/><circle cx="1394.8" cy="518.8" r="5.9"/><circle cx="1415.6" cy="611.7" r="5.9"/><circle cx="1439.5" cy="719.6" r="5.9"/></g>
<polyline fill="none" stroke="#ff00ff" stroke-width="12.5" stroke-linejoin="round" stroke-linecap="round" points="1114.5,19.8 1114.5,20.6 1114.5,21.5 1114.5,22.4 1114.5,23.3 1114.5,24.4 1115.0,25.6 1115.5,26.8 1116.0,28.2 1116.5,29.9 1117.0,31.7 1117.5,33.8 1119.0,36.2 1121.0,39.0 1123.0,42.2 1126.0,46.1"/>
</g>
<rect x="1091.5" y="19.45" width="379.30" height="784.10" fill="none" stroke="#000" stroke-width="1.35"/>
<g stroke="#000" stroke-width="1.35">
<line x1="1147.5" y1="803.55" x2="1147.5" y2="809.95"/>
<line x1="1208.5" y1="803.55" x2="1208.5" y2="809.95"/>
<line x1="1270.5" y1="803.55" x2="1270.5" y2="809.95"/>
<line x1="1331.5" y1="803.55" x2="1331.5" y2="809.95"/>
<line x1="1392.5" y1="803.55" x2="1392.5" y2="809.95"/>
<line x1="1454.5" y1="803.55" x2="1454.5" y2="809.95"/>
<line x1="1085.10" y1="19.5" x2="1091.5" y2="19.5"/>
<line x1="1085.10" y1="96.5" x2="1091.5" y2="96.5"/>
<line x1="1085.10" y1="174.5" x2="1091.5" y2="174.5"/>
<line x1="1085.10" y1="251.5" x2="1091.5" y2="251.5"/>
<line x1="1085.10" y1="329.5" x2="1091.5" y2="329.5"/>
<line x1="1085.10" y1="407.5" x2="1091.5" y2="407.5"/>
<line x1="1085.10" y1="484.5" x2="1091.5" y2="484.5"/>
<line x1="1085.10" y1="562.5" x2="1091.5" y2="562.5"/>
<line x1="1085.10" y1="640.5" x2="1091.5" y2="640.5"/>
<line x1="1085.10" y1="717.5" x2="1091.5" y2="717.5"/>
<line x1="1085.10" y1="795.5" x2="1091.5" y2="795.5"/>
</g>
<text x="1134.73" y="858.24" font-size="17.71" text-anchor="start" textLength="44.28" lengthAdjust="spacingAndGlyphs" transform="rotate(-45 1134.73 858.24)">1022</text>
<text x="1196.03" y="858.24" font-size="17.71" text-anchor="start" textLength="44.28" lengthAdjust="spacingAndGlyphs" transform="rotate(-45 1196.03 858.24)">1024</text>
<text x="1257.33" y="858.24" font-size="17.71" text-anchor="start" textLength="44.28" lengthAdjust="spacingAndGlyphs" transform="rotate(-45 1257.33 858.24)">1026</text>
<text x="1318.63" y="858.24" font-size="17.71" text-anchor="start" textLength="44.28" lengthAdjust="spacingAndGlyphs" transform="rotate(-45 1318.63 858.24)">1028</text>
<text x="1380.03" y="858.24" font-size="17.71" text-anchor="start" textLength="44.28" lengthAdjust="spacingAndGlyphs" transform="rotate(-45 1380.03 858.24)">1030</text>
<text x="1441.33" y="858.24" font-size="17.71" text-anchor="start" textLength="44.28" lengthAdjust="spacingAndGlyphs" transform="rotate(-45 1441.33 858.24)">1032</text>
<clipPath id="cpm"><rect x="1587.4" y="261.5" width="379.0" height="298.3"/></clipPath>
<rect x="1587.4" y="261.5" width="379.0" height="298.3" fill="#97b6e1"/>
<g clip-path="url(#cpm)">
<polygon points="1684.4,261.5 1685.9,268.2 1690.5,276.9 1695.6,287.6 1700.2,295.7 1701.7,302.8 1708.8,307.9 1717.0,315.0 1721.0,321.1 1720.0,326.2 1715.0,327.2 1710.0,325.5 1706.3,321.6 1705.5,324.0 1707.8,327.7 1712.9,332.3 1721.0,338.4 1726.1,341.5 1730.2,339.6 1733.2,345.3 1740.3,350.2 1742.4,358.3 1740.3,364.9 1745.4,369.5 1753.6,373.6 1760.7,379.7 1763.7,385.8 1766.3,388.3 1771.9,384.3 1770.9,380.7 1767.8,375.6 1766.8,370.5 1760.7,369.5 1758.7,363.4 1755.6,357.3 1751.5,350.2 1747.5,343.1 1744.4,341.5 1738.3,332.3 1734.8,325.2 1732.2,318.1 1726.1,312.0 1721.0,304.8 1715.4,299.8 1713.4,293.7 1710.9,285.5 1710.9,276.9 1716.0,277.5 1721.0,279.4 1730.2,284.5 1732.2,292.6 1736.3,300.8 1740.4,308.9 1739.5,315.0 1744.4,316.0 1749.5,323.2 1757.7,327.2 1760.7,335.4 1767.8,339.4 1773.9,344.5 1774.9,347.6 1771.9,350.2 1773.9,355.3 1781.0,359.3 1787.1,363.4 1791.2,368.5 1798.3,373.6 1804.4,381.7 1811.6,389.8 1814.6,397.0 1816.6,403.1 1819.2,408.2 1818.0,413.5 1813.6,417.8 1816.5,425.0 1822.6,430.4 1830.7,434.5 1837.8,442.1 1847.0,444.7 1855.1,446.7 1863.2,452.8 1871.4,456.4 1879.5,460.4 1889.7,463.5 1899.9,468.6 1908.0,470.1 1916.1,472.6 1922.2,471.1 1930.4,467.1 1938.5,466.5 1946.7,470.1 1954.8,478.2 1962.9,486.4 1966.4,488.4 1966.4,437.6 1956.8,439.1 1946.7,441.6 1938.5,444.2 1932.4,438.6 1923.3,436.5 1918.2,429.4 1915.1,422.3 1908.0,412.1 1905.0,405.0 1903.1,403.1 1901.1,394.9 1901.6,380.7 1902.1,368.5 1905.2,358.3 1909.2,350.2 1907.4,341.0 1907.5,334.4 1911.6,326.2 1919.7,320.1 1928.9,315.0 1937.0,306.9 1945.1,303.8 1952.3,302.8 1962.4,304.9 1966.4,305.9 1966.4,261.5 1684.4,261.5" fill="#d2b48c"/>
<g fill="none" stroke="#97b6e1" stroke-width="1.7" stroke-linejoin="round" stroke-linecap="round">
<polyline points="1707.8,274.3 1708.5,270.5 1710.9,267.2 1717.0,264.7 1724.0,262.8 1731.2,261.6"/>
<polyline points="1765.8,261.6 1770.9,263.1 1776.5,266.0 1779.5,265.2 1782.0,261.8"/>
<polyline points="1795.3,261.6 1796.3,265.2 1800.4,270.3 1802.4,274.8"/>
<polyline points="1802.4,275.3 1812.6,284.5 1821.7,291.6 1825.8,302.8 1832.9,308.9 1841.1,313.0 1846.2,307.9 1848.2,303.3 1853.3,302.3 1860.7,302.8 1867.8,309.9 1872.9,320.1 1882.1,331.3 1884.1,340.5 1887.1,345.5 1897.3,349.0 1907.2,351.7"/>
<polyline points="1868.8,261.6 1870.9,262.6 1876.0,261.6"/>
<polyline points="1891.2,261.1 1897.0,264.0 1901.4,268.2 1903.0,271.0 1906.5,275.3 1911.6,284.5 1915.6,291.6 1920.2,295.7 1920.2,302.8 1925.8,305.9 1927.8,314.0"/>
<polyline points="1816.6,401.0 1824.8,401.0 1829.9,408.2 1838.0,410.2 1842.1,416.3 1846.1,419.3 1840.5,419.8"/>
<polyline points="1873.1,397.5 1879.7,403.1 1883.0,401.5 1886.8,402.1 1894.0,398.5 1901.1,395.4"/>
<polyline points="1959.5,438.6 1962.0,442.0 1964.5,444.0 1966.0,447.0"/>
</g>
<polygon points="1958.5,438.9 1964.8,438 1966.4,447 1962.5,443" fill="#97b6e1" opacity="0.8"/>
<g fill="none" stroke="#000" stroke-width="1.45">
<polyline points="1776,261.5 1776,283"/>
<polyline points="1802.4,274.1 1843,274.1 1843,261.5"/>
<polyline points="1943.1,261.1 1943.1,273.3 1945.5,278 1948.2,283.5 1948.7,288.6 1946.7,295.7 1946.2,302.8"/>
<polyline points="1715.6,261.5 1715.8,264.5 1713.5,266"/>
</g>
<g fill="none" stroke="#000" stroke-width="1.5" stroke-dasharray="5.3 2.3">
<polyline points="1685.4,267.3 1700,265.6 1715.4,263.6"/>
<polyline points="1711.9,267.2 1733,275.2 1753.6,283 1786.1,283 1786.1,277.4 1802.4,276.9"/>
<polyline points="1802.4,275.3 1812.6,284.5 1821.7,291.6 1825.8,302.8 1832.9,308.9 1841.1,313.0 1846.2,307.9 1848.2,303.3 1853.3,302.3 1860.7,302.8 1867.8,309.9 1872.9,320.1 1882.1,331.3 1884.1,340.5 1887.1,345.5 1897.3,349.0 1907.2,351.7"/>
</g>
<polygon points="1903.6,357.5 1906,357.8 1903.6,371 1902,370.5" fill="#3a4657"/>
<g fill="none" stroke="#000" stroke-width="1.9" stroke-linejoin="round" stroke-linecap="round">
<polyline points="1684.4,261.5 1685.9,268.2 1690.5,276.9 1695.6,287.6 1700.2,295.7 1701.7,302.8 1708.8,307.9 1717.0,315.0 1721.0,321.1 1720.0,326.2 1715.0,327.2 1710.0,325.5 1706.3,321.6 1705.5,324.0 1707.8,327.7 1712.9,332.3 1721.0,338.4 1726.1,341.5 1730.2,339.6 1733.2,345.3 1740.3,350.2 1742.4,358.3 1740.3,364.9 1745.4,369.5 1753.6,373.6 1760.7,379.7 1763.7,385.8 1766.3,388.3 1771.9,384.3 1770.9,380.7 1767.8,375.6 1766.8,370.5 1760.7,369.5 1758.7,363.4 1755.6,357.3 1751.5,350.2 1747.5,343.1 1744.4,341.5 1738.3,332.3 1734.8,325.2 1732.2,318.1 1726.1,312.0 1721.0,304.8 1715.4,299.8 1713.4,293.7 1710.9,285.5 1710.9,276.9 1716.0,277.5 1721.0,279.4 1730.2,284.5 1732.2,292.6 1736.3,300.8 1740.4,308.9 1739.5,315.0 1744.4,316.0 1749.5,323.2 1757.7,327.2 1760.7,335.4 1767.8,339.4 1773.9,344.5 1774.9,347.6 1771.9,350.2 1773.9,355.3 1781.0,359.3 1787.1,363.4 1791.2,368.5 1798.3,373.6 1804.4,381.7 1811.6,389.8 1814.6,397.0 1816.6,403.1 1819.2,408.2 1818.0,413.5 1813.6,417.8 1816.5,425.0 1822.6,430.4 1830.7,434.5 1837.8,442.1 1847.0,444.7 1855.1,446.7 1863.2,452.8 1871.4,456.4 1879.5,460.4 1889.7,463.5 1899.9,468.6 1908.0,470.1 1916.1,472.6 1922.2,471.1 1930.4,467.1 1938.5,466.5 1946.7,470.1 1954.8,478.2 1962.9,486.4 1966.4,488.4"/>
<polyline points="1966.4,437.6 1956.8,439.1 1946.7,441.6 1938.5,444.2 1932.4,438.6 1923.3,436.5 1918.2,429.4 1915.1,422.3 1908.0,412.1 1905.0,405.0 1903.1,403.1 1901.1,394.9 1901.6,380.7 1902.1,368.5 1905.2,358.3 1909.2,350.2 1907.4,341.0 1907.5,334.4 1911.6,326.2 1919.7,320.1 1928.9,315.0 1937.0,306.9 1945.1,303.8 1952.3,302.8 1962.4,304.9 1966.4,305.9"/>
</g>
<g fill="none" stroke="#000" stroke-linecap="round" stroke-linejoin="round">
<polyline stroke-width="4.2" points="1905.9,336.5 1906.4,332.3 1910.2,325 1918.4,318.6 1927.4,313.5 1932.2,309"/>
<polyline stroke-width="3.2" points="1931.2,306.3 1936.4,303.4"/>
<polyline stroke-width="3" points="1913.5,318.4 1917.5,316.2"/>
<polyline stroke-width="3" points="1903.2,329.2 1905.3,327.2"/>
<polyline stroke-width="3" points="1901.6,334 1904,333.6"/>
<polyline stroke-width="2.6" points="1907.6,342 1908.8,350.5 1905.4,358 1902.3,369 1901.7,381 1901.2,394"/>
<polyline stroke-width="2.6" points="1903.5,404 1906,410"/>
<polyline stroke-width="2.9" points="1738.3,332.3 1744.4,341.5 1747.5,343.1 1751.5,350.2 1755.6,357.3 1758.7,363.4 1760.7,369.5 1766.8,370.5 1767.8,375.6"/>
<polyline stroke-width="2.4" points="1740.5,364.5 1745.4,369.5 1753.6,373.6"/>
<polyline stroke-width="2.6" points="1715,327.4 1720.2,326.4 1721.4,321.5"/>
<polyline stroke-width="2.4" points="1706.6,321 1707.3,326.5"/>
<polyline stroke-width="2.6" points="1774,345 1772.5,350.5 1774.5,355.5 1781,359.5 1787.5,364"/>
<polyline stroke-width="2.4" points="1738.6,313.5 1740.2,309.5"/>
<polyline stroke-width="2.4" points="1815,413 1819,413.5"/>
</g>
<g fill="#000">
<ellipse cx="1673.3" cy="312.6" rx="1.7" ry="3.1"/>
<ellipse cx="1703.8" cy="321.6" rx="1.5" ry="1.3"/>
<ellipse cx="1727.4" cy="310.6" rx="2.0" ry="5.2" transform="rotate(-32 1727.4 310.6)"/>
<ellipse cx="1742.2" cy="317.2" rx="1.6" ry="3.2" transform="rotate(10 1742.2 317.2)"/>
<ellipse cx="1804.9" cy="404.6" rx="1.3" ry="4.3" transform="rotate(-38 1804.9 404.6)"/>
<ellipse cx="1745" cy="426.5" rx="1.6" ry="3.2" transform="rotate(-30 1745 426.5)" fill="none"/>
<circle cx="1754.4" cy="436.6" r="1.6"/>
<circle cx="1712.6" cy="441.5" r="1.1"/>
<circle cx="1670.6" cy="262.6" r="1.6"/>
<circle cx="1774.1" cy="533.9" r="0.7" opacity="0.6"/>
<circle cx="1756.4" cy="430.6" r="0.8" opacity="0.7"/>
</g>
<circle cx="1818.4" cy="474.6" r="4.3" fill="#ff0000" stroke="#000" stroke-width="1.4"/>
</g>
<rect x="1587.4" y="261.5" width="379.0" height="298.3" fill="none" stroke="#000" stroke-width="1.5"/>
<g stroke="#000">
<line x1="1588.6" y1="261.5" x2="1588.6" y2="257.9" stroke-width="1.7"/>
<line x1="1588.6" y1="559.8" x2="1588.6" y2="563.4" stroke-width="1.7"/>
<line x1="1599.7" y1="261.5" x2="1599.7" y2="252.7" stroke-width="3.4"/>
<line x1="1599.7" y1="559.8" x2="1599.7" y2="568.6" stroke-width="3.4"/>
<line x1="1610.8" y1="261.5" x2="1610.8" y2="257.9" stroke-width="1.7"/>
<line x1="1610.8" y1="559.8" x2="1610.8" y2="563.4" stroke-width="1.7"/>
<line x1="1621.9" y1="261.5" x2="1621.9" y2="257.9" stroke-width="1.7"/>
<line x1="1621.9" y1="559.8" x2="1621.9" y2="563.4" stroke-width="1.7"/>
<line x1="1633.1" y1="261.5" x2="1633.1" y2="257.9" stroke-width="1.7"/>
<line x1="1633.1" y1="559.8" x2="1633.1" y2="563.4" stroke-width="1.7"/>
<line x1="1644.2" y1="261.5" x2="1644.2" y2="257.9" stroke-width="1.7"/>
<line x1="1644.2" y1="559.8" x2="1644.2" y2="563.4" stroke-width="1.7"/>
<line x1="1655.3" y1="261.5" x2="1655.3" y2="252.7" stroke-width="3.4"/>
<line x1="1655.3" y1="559.8" x2="1655.3" y2="568.6" stroke-width="3.4"/>
<line x1="1666.4" y1="261.5" x2="1666.4" y2="257.9" stroke-width="1.7"/>
<line x1="1666.4" y1="559.8" x2="1666.4" y2="563.4" stroke-width="1.7"/>
<line x1="1677.6" y1="261.5" x2="1677.6" y2="257.9" stroke-width="1.7"/>
<line x1="1677.6" y1="559.8" x2="1677.6" y2="563.4" stroke-width="1.7"/>
<line x1="1688.7" y1="261.5" x2="1688.7" y2="257.9" stroke-width="1.7"/>
<line x1="1688.7" y1="559.8" x2="1688.7" y2="563.4" stroke-width="1.7"/>
<line x1="1699.8" y1="261.5" x2="1699.8" y2="257.9" stroke-width="1.7"/>
<line x1="1699.8" y1="559.8" x2="1699.8" y2="563.4" stroke-width="1.7"/>
<line x1="1710.9" y1="261.5" x2="1710.9" y2="252.7" stroke-width="3.4"/>
<line x1="1710.9" y1="559.8" x2="1710.9" y2="568.6" stroke-width="3.4"/>
<line x1="1722.0" y1="261.5" x2="1722.0" y2="257.9" stroke-width="1.7"/>
<line x1="1722.0" y1="559.8" x2="1722.0" y2="563.4" stroke-width="1.7"/>
<line x1="1733.2" y1="261.5" x2="1733.2" y2="257.9" stroke-width="1.7"/>
<line x1="1733.2" y1="559.8" x2="1733.2" y2="563.4" stroke-width="1.7"/>
<line x1="1744.3" y1="261.5" x2="1744.3" y2="257.9" stroke-width="1.7"/>
<line x1="1744.3" y1="559.8" x2="1744.3" y2="563.4" stroke-width="1.7"/>
<line x1="1755.4" y1="261.5" x2="1755.4" y2="257.9" stroke-width="1.7"/>
<line x1="1755.4" y1="559.8" x2="1755.4" y2="563.4" stroke-width="1.7"/>
<line x1="1766.5" y1="261.5" x2="1766.5" y2="252.7" stroke-width="3.4"/>
<line x1="1766.5" y1="559.8" x2="1766.5" y2="568.6" stroke-width="3.4"/>
<line x1="1777.7" y1="261.5" x2="1777.7" y2="257.9" stroke-width="1.7"/>
<line x1="1777.7" y1="559.8" x2="1777.7" y2="563.4" stroke-width="1.7"/>
<line x1="1788.8" y1="261.5" x2="1788.8" y2="257.9" stroke-width="1.7"/>
<line x1="1788.8" y1="559.8" x2="1788.8" y2="563.4" stroke-width="1.7"/>
<line x1="1799.9" y1="261.5" x2="1799.9" y2="257.9" stroke-width="1.7"/>
<line x1="1799.9" y1="559.8" x2="1799.9" y2="563.4" stroke-width="1.7"/>
<line x1="1811.0" y1="261.5" x2="1811.0" y2="257.9" stroke-width="1.7"/>
<line x1="1811.0" y1="559.8" x2="1811.0" y2="563.4" stroke-width="1.7"/>
<line x1="1822.1" y1="261.5" x2="1822.1" y2="252.7" stroke-width="3.4"/>
<line x1="1822.1" y1="559.8" x2="1822.1" y2="568.6" stroke-width="3.4"/>
<line x1="1833.3" y1="261.5" x2="1833.3" y2="257.9" stroke-width="1.7"/>
<line x1="1833.3" y1="559.8" x2="1833.3" y2="563.4" stroke-width="1.7"/>
<line x1="1844.4" y1="261.5" x2="1844.4" y2="257.9" stroke-width="1.7"/>
<line x1="1844.4" y1="559.8" x2="1844.4" y2="563.4" stroke-width="1.7"/>
<line x1="1855.5" y1="261.5" x2="1855.5" y2="257.9" stroke-width="1.7"/>
<line x1="1855.5" y1="559.8" x2="1855.5" y2="563.4" stroke-width="1.7"/>
<line x1="1866.6" y1="261.5" x2="1866.6" y2="257.9" stroke-width="1.7"/>
<line x1="1866.6" y1="559.8" x2="1866.6" y2="563.4" stroke-width="1.7"/>
<line x1="1877.8" y1="261.5" x2="1877.8" y2="252.7" stroke-width="3.4"/>
<line x1="1877.8" y1="559.8" x2="1877.8" y2="568.6" stroke-width="3.4"/>
<line x1="1888.9" y1="261.5" x2="1888.9" y2="257.9" stroke-width="1.7"/>
<line x1="1888.9" y1="559.8" x2="1888.9" y2="563.4" stroke-width="1.7"/>
<line x1="1900.0" y1="261.5" x2="1900.0" y2="257.9" stroke-width="1.7"/>
<line x1="1900.0" y1="559.8" x2="1900.0" y2="563.4" stroke-width="1.7"/>
<line x1="1911.1" y1="261.5" x2="1911.1" y2="257.9" stroke-width="1.7"/>
<line x1="1911.1" y1="559.8" x2="1911.1" y2="563.4" stroke-width="1.7"/>
<line x1="1922.2" y1="261.5" x2="1922.2" y2="257.9" stroke-width="1.7"/>
<line x1="1922.2" y1="559.8" x2="1922.2" y2="563.4" stroke-width="1.7"/>
<line x1="1933.4" y1="261.5" x2="1933.4" y2="252.7" stroke-width="3.4"/>
<line x1="1933.4" y1="559.8" x2="1933.4" y2="568.6" stroke-width="3.4"/>
<line x1="1944.5" y1="261.5" x2="1944.5" y2="257.9" stroke-width="1.7"/>
<line x1="1944.5" y1="559.8" x2="1944.5" y2="563.4" stroke-width="1.7"/>
<line x1="1955.6" y1="261.5" x2="1955.6" y2="257.9" stroke-width="1.7"/>
<line x1="1955.6" y1="559.8" x2="1955.6" y2="563.4" stroke-width="1.7"/>
<line x1="1966.7" y1="261.5" x2="1966.7" y2="257.9" stroke-width="1.7"/>
<line x1="1966.7" y1="559.8" x2="1966.7" y2="563.4" stroke-width="1.7"/>
<line x1="1587.4" y1="561.1" x2="1583.8" y2="561.1" stroke-width="1.7"/>
<line x1="1966.4" y1="561.1" x2="1970.0" y2="561.1" stroke-width="1.7"/>
<line x1="1587.4" y1="549.8" x2="1583.8" y2="549.8" stroke-width="1.7"/>
<line x1="1966.4" y1="549.8" x2="1970.0" y2="549.8" stroke-width="1.7"/>
<line x1="1587.4" y1="538.5" x2="1578.6" y2="538.5" stroke-width="3.4"/>
<line x1="1966.4" y1="538.5" x2="1975.2" y2="538.5" stroke-width="3.4"/>
<line x1="1587.4" y1="527.2" x2="1583.8" y2="527.2" stroke-width="1.7"/>
<line x1="1966.4" y1="527.2" x2="1970.0" y2="527.2" stroke-width="1.7"/>
<line x1="1587.4" y1="515.9" x2="1583.8" y2="515.9" stroke-width="1.7"/>
<line x1="1966.4" y1="515.9" x2="1970.0" y2="515.9" stroke-width="1.7"/>
<line x1="1587.4" y1="504.5" x2="1583.8" y2="504.5" stroke-width="1.7"/>
<line x1="1966.4" y1="504.5" x2="1970.0" y2="504.5" stroke-width="1.7"/>
<line x1="1587.4" y1="493.0" x2="1583.8" y2="493.0" stroke-width="1.7"/>
<line x1="1966.4" y1="493.0" x2="1970.0" y2="493.0" stroke-width="1.7"/>
<line x1="1587.4" y1="481.6" x2="1578.6" y2="481.6" stroke-width="3.4"/>
<line x1="1966.4" y1="481.6" x2="1975.2" y2="481.6" stroke-width="3.4"/>
<line x1="1587.4" y1="470.0" x2="1583.8" y2="470.0" stroke-width="1.7"/>
<line x1="1966.4" y1="470.0" x2="1970.0" y2="470.0" stroke-width="1.7"/>
<line x1="1587.4" y1="458.4" x2="1583.8" y2="458.4" stroke-width="1.7"/>
<line x1="1966.4" y1="458.4" x2="1970.0" y2="458.4" stroke-width="1.7"/>
<line x1="1587.4" y1="446.8" x2="1583.8" y2="446.8" stroke-width="1.7"/>
<line x1="1966.4" y1="446.8" x2="1970.0" y2="446.8" stroke-width="1.7"/>
<line x1="1587.4" y1="435.0" x2="1583.8" y2="435.0" stroke-width="1.7"/>
<line x1="1966.4" y1="435.0" x2="1970.0" y2="435.0" stroke-width="1.7"/>
<line x1="1587.4" y1="423.2" x2="1578.6" y2="423.2" stroke-width="3.4"/>
<line x1="1966.4" y1="423.2" x2="1975.2" y2="423.2" stroke-width="3.4"/>
<line x1="1587.4" y1="411.4" x2="1583.8" y2="411.4" stroke-width="1.7"/>
<line x1="1966.4" y1="411.4" x2="1970.0" y2="411.4" stroke-width="1.7"/>
<line x1="1587.4" y1="399.4" x2="1583.8" y2="399.4" stroke-width="1.7"/>
<line x1="1966.4" y1="399.4" x2="1970.0" y2="399.4" stroke-width="1.7"/>
<line x1="1587.4" y1="387.4" x2="1583.8" y2="387.4" stroke-width="1.7"/>
<line x1="1966.4" y1="387.4" x2="1970.0" y2="387.4" stroke-width="1.7"/>
<line x1="1587.4" y1="375.2" x2="1583.8" y2="375.2" stroke-width="1.7"/>
<line x1="1966.4" y1="375.2" x2="1970.0" y2="375.2" stroke-width="1.7"/>
<line x1="1587.4" y1="363.0" x2="1578.6" y2="363.0" stroke-width="3.4"/>
<line x1="1966.4" y1="363.0" x2="1975.2" y2="363.0" stroke-width="3.4"/>
<line x1="1587.4" y1="350.7" x2="1583.8" y2="350.7" stroke-width="1.7"/>
<line x1="1966.4" y1="350.7" x2="1970.0" y2="350.7" stroke-width="1.7"/>
<line x1="1587.4" y1="338.3" x2="1583.8" y2="338.3" stroke-width="1.7"/>
<line x1="1966.4" y1="338.3" x2="1970.0" y2="338.3" stroke-width="1.7"/>
<line x1="1587.4" y1="325.7" x2="1583.8" y2="325.7" stroke-width="1.7"/>
<line x1="1966.4" y1="325.7" x2="1970.0" y2="325.7" stroke-width="1.7"/>
<line x1="1587.4" y1="313.1" x2="1583.8" y2="313.1" stroke-width="1.7"/>
<line x1="1966.4" y1="313.1" x2="1970.0" y2="313.1" stroke-width="1.7"/>
<line x1="1587.4" y1="300.3" x2="1578.6" y2="300.3" stroke-width="3.4"/>
<line x1="1966.4" y1="300.3" x2="1975.2" y2="300.3" stroke-width="3.4"/>
<line x1="1587.4" y1="287.4" x2="1583.8" y2="287.4" stroke-width="1.7"/>
<line x1="1966.4" y1="287.4" x2="1970.0" y2="287.4" stroke-width="1.7"/>
<line x1="1587.4" y1="274.3" x2="1583.8" y2="274.3" stroke-width="1.7"/>
<line x1="1966.4" y1="274.3" x2="1970.0" y2="274.3" stroke-width="1.7"/>
<line x1="1587.4" y1="261.2" x2="1583.8" y2="261.2" stroke-width="1.7"/>
<line x1="1966.4" y1="261.2" x2="1970.0" y2="261.2" stroke-width="1.7"/>
</g>
<text x="1573.30" y="309.20" font-size="22.80" text-anchor="end" textLength="56.46" lengthAdjust="spacingAndGlyphs">30°N</text>
<text x="1573.30" y="371.92" font-size="22.80" text-anchor="end" textLength="56.46" lengthAdjust="spacingAndGlyphs">25°N</text>
<text x="1573.30" y="432.13" font-size="22.80" text-anchor="end" textLength="56.46" lengthAdjust="spacingAndGlyphs">20°N</text>
<text x="1573.30" y="490.46" font-size="22.80" text-anchor="end" textLength="56.46" lengthAdjust="spacingAndGlyphs">15°N</text>
<text x="1573.30" y="547.44" font-size="22.80" text-anchor="end" textLength="56.46" lengthAdjust="spacingAndGlyphs">10°N</text>
<text x="1576.17" y="643.08" font-size="22.80" text-anchor="start" textLength="76.10" lengthAdjust="spacingAndGlyphs" transform="rotate(-45 1576.17 643.08)">125°W</text>
<text x="1631.78" y="643.08" font-size="22.80" text-anchor="start" textLength="76.10" lengthAdjust="spacingAndGlyphs" transform="rotate(-45 1631.78 643.08)">120°W</text>
<text x="1687.39" y="643.08" font-size="22.80" text-anchor="start" textLength="76.10" lengthAdjust="spacingAndGlyphs" transform="rotate(-45 1687.39 643.08)">115°W</text>
<text x="1743.00" y="643.08" font-size="22.80" text-anchor="start" textLength="76.10" lengthAdjust="spacingAndGlyphs" transform="rotate(-45 1743.00 643.08)">110°W</text>
<text x="1798.61" y="643.08" font-size="22.80" text-anchor="start" textLength="76.10" lengthAdjust="spacingAndGlyphs" transform="rotate(-45 1798.61 643.08)">105°W</text>
<text x="1854.22" y="643.28" font-size="22.80" text-anchor="start" textLength="76.10" lengthAdjust="spacingAndGlyphs" transform="rotate(-45 1854.22 643.28)">100°W</text>
<text x="1914.87" y="632.84" font-size="22.80" text-anchor="start" textLength="61.85" lengthAdjust="spacingAndGlyphs" transform="rotate(-45 1914.87 632.84)">95°W</text>
<text x="29.10" y="412.20" font-size="23.09" text-anchor="middle" font-weight="bold" textLength="127.60" lengthAdjust="spacingAndGlyphs" transform="rotate(-90 29.10 412.20)">Depth (m)</text>
<text x="179.10" y="860.20" font-size="23.09" text-anchor="start" font-weight="bold" textLength="182.30" lengthAdjust="spacingAndGlyphs">Temperature (</text>
<text x="362.60" y="851.60" font-size="16.27" text-anchor="start" font-style="italic" textLength="9.78" lengthAdjust="spacingAndGlyphs">o</text>
<text x="372.60" y="860.20" font-size="22.60" text-anchor="start" font-style="italic" textLength="15.50" lengthAdjust="spacingAndGlyphs">C</text>
<text x="398.00" y="860.20" font-size="23.09" text-anchor="end" font-weight="bold" textLength="10.15" lengthAdjust="spacingAndGlyphs">)</text>
<text x="784.90" y="859.00" font-size="23.09" text-anchor="middle" font-weight="bold" textLength="94.69" lengthAdjust="spacingAndGlyphs">Salinity</text>
<text x="1280.50" y="885.10" font-size="23.09" text-anchor="middle" font-weight="bold" textLength="212.40" lengthAdjust="spacingAndGlyphs">Density (kg m-3)</text>
<text x="343.20" y="917.90" font-size="17.51" text-anchor="start" font-style="italic" textLength="891.60" lengthAdjust="spacingAndGlyphs" xml:space="preserve">Ocean Heat Content (kJ/cm^2) - Glider: 53.6838,  RTOFS: 51.8166,  ESPC: 52.2997,  CMEMS: 56.2589,</text>
<text x="1550.30" y="36.80" font-size="23.35" text-anchor="start" font-weight="bold" textLength="378.00" lengthAdjust="spacingAndGlyphs">Comparison Date: 2025-10-24</text>
<text x="1550.30" y="89.40" font-size="23.35" text-anchor="start" font-weight="bold" textLength="169.27" lengthAdjust="spacingAndGlyphs">Glider: sg622</text>
<text x="1550.30" y="115.90" font-size="23.35" text-anchor="start" font-weight="bold" textLength="143.91" lengthAdjust="spacingAndGlyphs">Profiles: 12</text>
<text x="1550.30" y="142.50" font-size="23.35" text-anchor="start" font-weight="bold" textLength="338.09" lengthAdjust="spacingAndGlyphs">First: 2025-10-24 01:07:46</text>
<text x="1550.30" y="169.10" font-size="23.35" text-anchor="start" font-weight="bold" textLength="333.44" lengthAdjust="spacingAndGlyphs">Last: 2025-10-24 22:15:39</text>
<text x="1550.30" y="195.60" font-size="23.35" text-anchor="start" font-weight="bold" textLength="337.77" lengthAdjust="spacingAndGlyphs">Method: Nearest-Neighbor</text>
<rect x="1694.1" y="647.8" width="165.2" height="144.1" rx="4.2" fill="#fff" fill-opacity="0.8" stroke="#ccc" stroke-width="1.4"/>
<line x1="1702.1" y1="667.3" x2="1749.8" y2="667.3" stroke="#0000ff" stroke-width="2.7"/>
<circle cx="1726.0" cy="667.3" r="5.9" fill="#0000ff"/>
<text x="1767.40" y="675.20" font-size="22.80" text-anchor="start" textLength="68.64" lengthAdjust="spacingAndGlyphs">sg622</text>
<line x1="1702.1" y1="701.6" x2="1749.8" y2="701.6" stroke="#ff0000" stroke-width="2.7"/>
<circle cx="1726.0" cy="701.6" r="5.9" fill="#ff0000"/>
<text x="1767.40" y="709.50" font-size="22.80" text-anchor="start" textLength="71.96" lengthAdjust="spacingAndGlyphs">RTOFS</text>
<line x1="1702.1" y1="736.1" x2="1749.8" y2="736.1" stroke="#008000" stroke-width="2.7"/>
<circle cx="1726.0" cy="736.1" r="5.9" fill="#008000"/>
<text x="1767.40" y="744.00" font-size="22.80" text-anchor="start" textLength="57.52" lengthAdjust="spacingAndGlyphs">ESPC</text>
<line x1="1702.1" y1="770.5" x2="1749.8" y2="770.5" stroke="#ff00ff" stroke-width="2.7"/>
<circle cx="1726.0" cy="770.5" r="5.9" fill="#ff00ff"/>
<text x="1767.40" y="778.40" font-size="22.80" text-anchor="start" textLength="82.67" lengthAdjust="spacingAndGlyphs">CMEMS</text>
</svg>
</body></html>
